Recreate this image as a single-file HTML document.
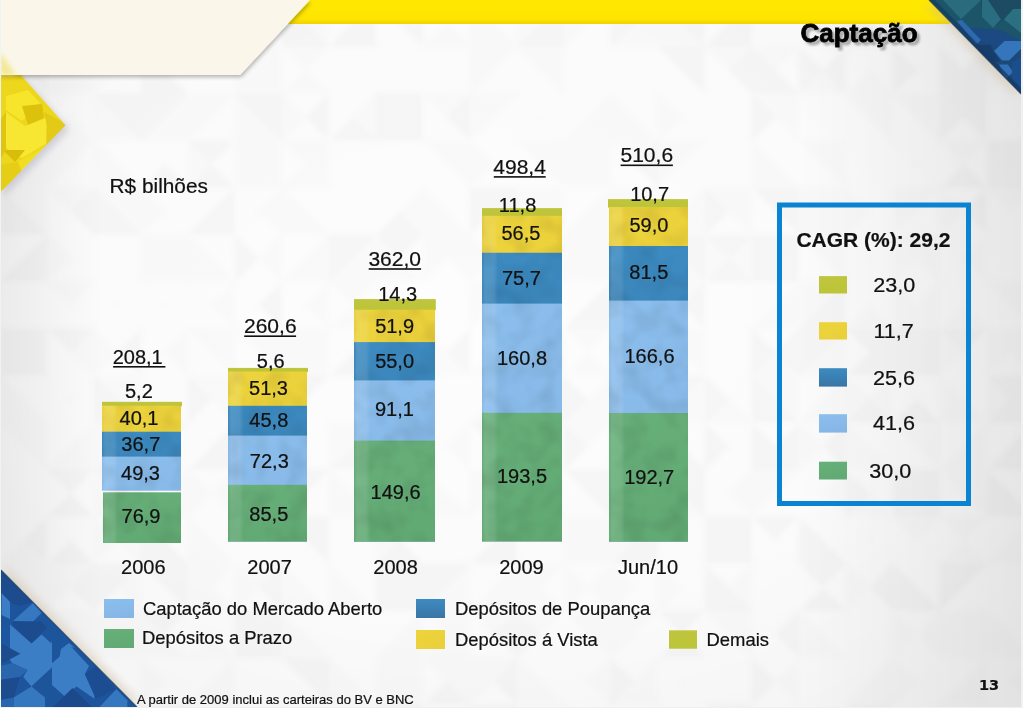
<!DOCTYPE html>
<html lang="pt">
<head>
<meta charset="utf-8">
<title>Captação</title>
<style>
html,body{margin:0;padding:0;background:#f6f6f6;}
body{width:1023px;height:708px;overflow:hidden;position:relative;}
svg{position:absolute;left:0;top:0;display:block;}
text{font-family:"Liberation Sans",Arial,Helvetica,sans-serif;fill:#111;stroke:#111;stroke-width:0.22px;}
.b{font-weight:bold;}
.sx text{transform-box:fill-box;transform-origin:center;transform:scaleX(1.09);}
</style>
</head>
<body>
<svg width="1023" height="708" viewBox="0 0 1023 708">
<defs>
  <radialGradient id="vig" cx="0.47" cy="0.45" r="0.72">
    <stop offset="0" stop-color="#000" stop-opacity="0"/>
    <stop offset="0.6" stop-color="#000" stop-opacity="0.01"/>
    <stop offset="1" stop-color="#000" stop-opacity="0.04"/>
  </radialGradient>
  <linearGradient id="vlr" x1="0" y1="0" x2="1" y2="0">
    <stop offset="0" stop-color="#000" stop-opacity="0.06"/>
    <stop offset="0.1" stop-color="#000" stop-opacity="0.0"/>
    <stop offset="0.78" stop-color="#000" stop-opacity="0.0"/>
    <stop offset="1" stop-color="#000" stop-opacity="0.07"/>
  </linearGradient>
  <linearGradient id="stripe" x1="0" y1="0" x2="1" y2="0">
    <stop offset="0" stop-color="#fff" stop-opacity="0"/>
    <stop offset="0.04" stop-color="#fff" stop-opacity="0.12"/>
    <stop offset="0.15" stop-color="#fff" stop-opacity="0.10"/>
    <stop offset="0.2" stop-color="#fff" stop-opacity="0"/>
    <stop offset="1" stop-color="#fff" stop-opacity="0"/>
  </linearGradient>
  <filter id="mottle" x="0" y="0" width="100%" height="100%">
    <feTurbulence type="fractalNoise" baseFrequency="0.045" numOctaves="2" seed="5" result="n"/>
    <feColorMatrix in="n" type="matrix" values="0 0 0 0 0  0 0 0 0 0  0 0 0 0 0  0.45 0 0 0 -0.17" result="a"/>
    <feComposite in="a" in2="SourceGraphic" operator="in"/>
  </filter>
  <linearGradient id="ybar" x1="0" y1="0" x2="0" y2="1">
    <stop offset="0" stop-color="#ffe800"/>
    <stop offset="0.8" stop-color="#fde500"/>
    <stop offset="1" stop-color="#efd200"/>
  </linearGradient>
  <linearGradient id="gD" x1="0" y1="0" x2="0" y2="1"><stop offset="0" stop-color="#bfc63e"/><stop offset="1" stop-color="#bcc438"/></linearGradient>
  <linearGradient id="gY" x1="0" y1="0" x2="1" y2="1"><stop offset="0" stop-color="#edd33c"/><stop offset="1" stop-color="#e9d03a"/></linearGradient>
  <linearGradient id="gB" x1="0" y1="0" x2="0" y2="1"><stop offset="0" stop-color="#3c8bc1"/><stop offset="1" stop-color="#3a74a6"/></linearGradient>
  <linearGradient id="gL" x1="0" y1="0" x2="0.3" y2="1"><stop offset="0" stop-color="#8cbfed"/><stop offset="1" stop-color="#86b6e6"/></linearGradient>
  <linearGradient id="gG" x1="0" y1="0" x2="0.3" y2="1"><stop offset="0" stop-color="#68b07a"/><stop offset="1" stop-color="#62aa74"/></linearGradient>
  <filter id="sh" x="-10%" y="-10%" width="130%" height="140%">
    <feGaussianBlur in="SourceAlpha" stdDeviation="2"/>
    <feOffset dx="1" dy="2"/>
    <feComponentTransfer><feFuncA type="linear" slope="0.3"/></feComponentTransfer>
    <feMerge><feMergeNode/><feMergeNode in="SourceGraphic"/></feMerge>
  </filter>
  <filter id="shl" x="-20%" y="-20%" width="140%" height="140%">
    <feGaussianBlur in="SourceAlpha" stdDeviation="3"/>
    <feOffset dx="-2" dy="2"/>
    <feComponentTransfer><feFuncA type="linear" slope="0.3"/></feComponentTransfer>
    <feMerge><feMergeNode/><feMergeNode in="SourceGraphic"/></feMerge>
  </filter>
  <filter id="tsh" x="-10%" y="-10%" width="130%" height="150%">
    <feGaussianBlur in="SourceAlpha" stdDeviation="1.1"/>
    <feOffset dx="2.5" dy="2.5"/>
    <feComponentTransfer><feFuncA type="linear" slope="0.3"/></feComponentTransfer>
    <feMerge><feMergeNode/><feMergeNode in="SourceGraphic"/></feMerge>
  </filter>
  <filter id="shbl" x="-20%" y="-20%" width="140%" height="140%">
    <feGaussianBlur in="SourceAlpha" stdDeviation="4"/>
    <feOffset dx="4" dy="-4"/>
    <feColorMatrix type="matrix" values="0 0 0 0 0.6  0 0 0 0 0.48  0 0 0 0 0.3  0 0 0 0.4 0"/>
    <feMerge><feMergeNode/><feMergeNode in="SourceGraphic"/></feMerge>
  </filter>
  <filter id="bgblur" x="0" y="0" width="100%" height="100%"><feGaussianBlur stdDeviation="2.5"/></filter>
  <filter id="soft" x="-5%" y="-5%" width="110%" height="110%"><feGaussianBlur stdDeviation="0.6"/></filter>
  <filter id="shtr" x="-20%" y="-20%" width="140%" height="140%">
    <feGaussianBlur in="SourceAlpha" stdDeviation="4"/>
    <feOffset dx="-4" dy="4"/>
    <feColorMatrix type="matrix" values="0 0 0 0 0.6  0 0 0 0 0.48  0 0 0 0 0.3  0 0 0 0.4 0"/>
    <feMerge><feMergeNode/><feMergeNode in="SourceGraphic"/></feMerge>
  </filter>
  <filter id="shy" x="-30%" y="-20%" width="160%" height="140%">
    <feGaussianBlur in="SourceAlpha" stdDeviation="3.5"/>
    <feOffset dx="3" dy="4"/>
    <feColorMatrix type="matrix" values="0 0 0 0 0.4  0 0 0 0 0.4  0 0 0 0 0.5  0 0 0 0.5 0"/>
    <feMerge><feMergeNode/><feMergeNode in="SourceGraphic"/></feMerge>
  </filter>
  <filter id="blur3" x="-50%" y="-50%" width="200%" height="200%"><feGaussianBlur stdDeviation="2.5"/></filter>
  <clipPath id="trc"><polygon points="929,0 1021,0 1021,94"/></clipPath>
  <clipPath id="blc"><polygon points="1,570 137,707 1,707"/></clipPath>
  <clipPath id="ylc"><polygon points="0,51.4 65.6,125.2 0,193"/></clipPath>
</defs>

<!-- background -->
<rect x="0" y="0" width="1023" height="708" fill="#fafafa"/>
<g filter="url(#bgblur)" stroke-width="0.8">
<polygon points="0.0,0.0 47.0,0.0 23.5,23.5" fill="#fafafa" stroke="#fafafa"/>
<polygon points="47.0,0.0 47.0,47.0 23.5,23.5" fill="#fdfdfd" stroke="#fdfdfd"/>
<polygon points="47.0,47.0 0.0,47.0 23.5,23.5" fill="#fafafa" stroke="#fafafa"/>
<polygon points="0.0,47.0 0.0,0.0 23.5,23.5" fill="#fafafa" stroke="#fafafa"/>
<polygon points="47.0,0.0 94.0,0.0 70.5,23.5" fill="#fdfdfd" stroke="#fdfdfd"/>
<polygon points="94.0,0.0 94.0,47.0 70.5,23.5" fill="#f7f7f7" stroke="#f7f7f7"/>
<polygon points="94.0,47.0 47.0,47.0 70.5,23.5" fill="#fdfdfd" stroke="#fdfdfd"/>
<polygon points="47.0,47.0 47.0,0.0 70.5,23.5" fill="#fdfdfd" stroke="#fdfdfd"/>
<polygon points="94.0,0.0 141.0,0.0 141.0,47.0" fill="#f7f7f7" stroke="#f7f7f7"/>
<polygon points="94.0,0.0 141.0,47.0 94.0,47.0" fill="#fdfdfd" stroke="#fdfdfd"/>
<polygon points="141.0,0.0 188.0,0.0 188.0,47.0" fill="#fafafa" stroke="#fafafa"/>
<polygon points="141.0,0.0 188.0,47.0 141.0,47.0" fill="#f7f7f7" stroke="#f7f7f7"/>
<polygon points="188.0,0.0 235.0,0.0 188.0,47.0" fill="#fafafa" stroke="#fafafa"/>
<polygon points="235.0,0.0 235.0,47.0 188.0,47.0" fill="#fdfdfd" stroke="#fdfdfd"/>
<polygon points="235.0,0.0 282.0,0.0 235.0,47.0" fill="#fdfdfd" stroke="#fdfdfd"/>
<polygon points="282.0,0.0 282.0,47.0 235.0,47.0" fill="#fdfdfd" stroke="#fdfdfd"/>
<polygon points="282.0,0.0 329.0,0.0 329.0,47.0" fill="#fafafa" stroke="#fafafa"/>
<polygon points="282.0,0.0 329.0,47.0 282.0,47.0" fill="#f7f7f7" stroke="#f7f7f7"/>
<polygon points="329.0,0.0 376.0,0.0 329.0,47.0" fill="#fdfdfd" stroke="#fdfdfd"/>
<polygon points="376.0,0.0 376.0,47.0 329.0,47.0" fill="#f7f7f7" stroke="#f7f7f7"/>
<polygon points="376.0,0.0 423.0,0.0 399.5,23.5" fill="#f7f7f7" stroke="#f7f7f7"/>
<polygon points="423.0,0.0 423.0,47.0 399.5,23.5" fill="#f7f7f7" stroke="#f7f7f7"/>
<polygon points="423.0,47.0 376.0,47.0 399.5,23.5" fill="#fdfdfd" stroke="#fdfdfd"/>
<polygon points="376.0,47.0 376.0,0.0 399.5,23.5" fill="#fdfdfd" stroke="#fdfdfd"/>
<polygon points="423.0,0.0 470.0,0.0 446.5,23.5" fill="#f7f7f7" stroke="#f7f7f7"/>
<polygon points="470.0,0.0 470.0,47.0 446.5,23.5" fill="#fdfdfd" stroke="#fdfdfd"/>
<polygon points="470.0,47.0 423.0,47.0 446.5,23.5" fill="#fafafa" stroke="#fafafa"/>
<polygon points="423.0,47.0 423.0,0.0 446.5,23.5" fill="#fdfdfd" stroke="#fdfdfd"/>
<polygon points="470.0,0.0 517.0,0.0 517.0,47.0" fill="#fdfdfd" stroke="#fdfdfd"/>
<polygon points="470.0,0.0 517.0,47.0 470.0,47.0" fill="#fafafa" stroke="#fafafa"/>
<polygon points="517.0,0.0 564.0,0.0 517.0,47.0" fill="#fafafa" stroke="#fafafa"/>
<polygon points="564.0,0.0 564.0,47.0 517.0,47.0" fill="#f7f7f7" stroke="#f7f7f7"/>
<polygon points="564.0,0.0 611.0,0.0 564.0,47.0" fill="#fafafa" stroke="#fafafa"/>
<polygon points="611.0,0.0 611.0,47.0 564.0,47.0" fill="#fdfdfd" stroke="#fdfdfd"/>
<polygon points="611.0,0.0 658.0,0.0 611.0,47.0" fill="#f7f7f7" stroke="#f7f7f7"/>
<polygon points="658.0,0.0 658.0,47.0 611.0,47.0" fill="#fafafa" stroke="#fafafa"/>
<polygon points="658.0,0.0 705.0,0.0 705.0,47.0" fill="#f7f7f7" stroke="#f7f7f7"/>
<polygon points="658.0,0.0 705.0,47.0 658.0,47.0" fill="#fafafa" stroke="#fafafa"/>
<polygon points="705.0,0.0 752.0,0.0 728.5,23.5" fill="#fdfdfd" stroke="#fdfdfd"/>
<polygon points="752.0,0.0 752.0,47.0 728.5,23.5" fill="#f7f7f7" stroke="#f7f7f7"/>
<polygon points="752.0,47.0 705.0,47.0 728.5,23.5" fill="#f7f7f7" stroke="#f7f7f7"/>
<polygon points="705.0,47.0 705.0,0.0 728.5,23.5" fill="#fdfdfd" stroke="#fdfdfd"/>
<polygon points="752.0,0.0 799.0,0.0 799.0,47.0" fill="#fdfdfd" stroke="#fdfdfd"/>
<polygon points="752.0,0.0 799.0,47.0 752.0,47.0" fill="#fdfdfd" stroke="#fdfdfd"/>
<polygon points="799.0,0.0 846.0,0.0 799.0,47.0" fill="#fdfdfd" stroke="#fdfdfd"/>
<polygon points="846.0,0.0 846.0,47.0 799.0,47.0" fill="#fafafa" stroke="#fafafa"/>
<polygon points="846.0,0.0 893.0,0.0 869.5,23.5" fill="#fafafa" stroke="#fafafa"/>
<polygon points="893.0,0.0 893.0,47.0 869.5,23.5" fill="#fdfdfd" stroke="#fdfdfd"/>
<polygon points="893.0,47.0 846.0,47.0 869.5,23.5" fill="#f7f7f7" stroke="#f7f7f7"/>
<polygon points="846.0,47.0 846.0,0.0 869.5,23.5" fill="#f7f7f7" stroke="#f7f7f7"/>
<polygon points="893.0,0.0 940.0,0.0 893.0,47.0" fill="#fdfdfd" stroke="#fdfdfd"/>
<polygon points="940.0,0.0 940.0,47.0 893.0,47.0" fill="#fdfdfd" stroke="#fdfdfd"/>
<polygon points="940.0,0.0 987.0,0.0 987.0,47.0" fill="#fdfdfd" stroke="#fdfdfd"/>
<polygon points="940.0,0.0 987.0,47.0 940.0,47.0" fill="#fdfdfd" stroke="#fdfdfd"/>
<polygon points="987.0,0.0 1034.0,0.0 1034.0,47.0" fill="#fdfdfd" stroke="#fdfdfd"/>
<polygon points="987.0,0.0 1034.0,47.0 987.0,47.0" fill="#f7f7f7" stroke="#f7f7f7"/>
<polygon points="0.0,47.0 47.0,47.0 23.5,70.5" fill="#f7f7f7" stroke="#f7f7f7"/>
<polygon points="47.0,47.0 47.0,94.0 23.5,70.5" fill="#f7f7f7" stroke="#f7f7f7"/>
<polygon points="47.0,94.0 0.0,94.0 23.5,70.5" fill="#fdfdfd" stroke="#fdfdfd"/>
<polygon points="0.0,94.0 0.0,47.0 23.5,70.5" fill="#fdfdfd" stroke="#fdfdfd"/>
<polygon points="47.0,47.0 94.0,47.0 47.0,94.0" fill="#fafafa" stroke="#fafafa"/>
<polygon points="94.0,47.0 94.0,94.0 47.0,94.0" fill="#fafafa" stroke="#fafafa"/>
<polygon points="94.0,47.0 141.0,47.0 94.0,94.0" fill="#fafafa" stroke="#fafafa"/>
<polygon points="141.0,47.0 141.0,94.0 94.0,94.0" fill="#fdfdfd" stroke="#fdfdfd"/>
<polygon points="141.0,47.0 188.0,47.0 188.0,94.0" fill="#fdfdfd" stroke="#fdfdfd"/>
<polygon points="141.0,47.0 188.0,94.0 141.0,94.0" fill="#f7f7f7" stroke="#f7f7f7"/>
<polygon points="188.0,47.0 235.0,47.0 188.0,94.0" fill="#fdfdfd" stroke="#fdfdfd"/>
<polygon points="235.0,47.0 235.0,94.0 188.0,94.0" fill="#fdfdfd" stroke="#fdfdfd"/>
<polygon points="235.0,47.0 282.0,47.0 282.0,94.0" fill="#fafafa" stroke="#fafafa"/>
<polygon points="235.0,47.0 282.0,94.0 235.0,94.0" fill="#fafafa" stroke="#fafafa"/>
<polygon points="282.0,47.0 329.0,47.0 305.5,70.5" fill="#fafafa" stroke="#fafafa"/>
<polygon points="329.0,47.0 329.0,94.0 305.5,70.5" fill="#fdfdfd" stroke="#fdfdfd"/>
<polygon points="329.0,94.0 282.0,94.0 305.5,70.5" fill="#fafafa" stroke="#fafafa"/>
<polygon points="282.0,94.0 282.0,47.0 305.5,70.5" fill="#fdfdfd" stroke="#fdfdfd"/>
<polygon points="329.0,47.0 376.0,47.0 329.0,94.0" fill="#fdfdfd" stroke="#fdfdfd"/>
<polygon points="376.0,47.0 376.0,94.0 329.0,94.0" fill="#fdfdfd" stroke="#fdfdfd"/>
<polygon points="376.0,47.0 423.0,47.0 376.0,94.0" fill="#fdfdfd" stroke="#fdfdfd"/>
<polygon points="423.0,47.0 423.0,94.0 376.0,94.0" fill="#fdfdfd" stroke="#fdfdfd"/>
<polygon points="423.0,47.0 470.0,47.0 470.0,94.0" fill="#fdfdfd" stroke="#fdfdfd"/>
<polygon points="423.0,47.0 470.0,94.0 423.0,94.0" fill="#fdfdfd" stroke="#fdfdfd"/>
<polygon points="470.0,47.0 517.0,47.0 493.5,70.5" fill="#fafafa" stroke="#fafafa"/>
<polygon points="517.0,47.0 517.0,94.0 493.5,70.5" fill="#fdfdfd" stroke="#fdfdfd"/>
<polygon points="517.0,94.0 470.0,94.0 493.5,70.5" fill="#fdfdfd" stroke="#fdfdfd"/>
<polygon points="470.0,94.0 470.0,47.0 493.5,70.5" fill="#fafafa" stroke="#fafafa"/>
<polygon points="517.0,47.0 564.0,47.0 540.5,70.5" fill="#fafafa" stroke="#fafafa"/>
<polygon points="564.0,47.0 564.0,94.0 540.5,70.5" fill="#fafafa" stroke="#fafafa"/>
<polygon points="564.0,94.0 517.0,94.0 540.5,70.5" fill="#fdfdfd" stroke="#fdfdfd"/>
<polygon points="517.0,94.0 517.0,47.0 540.5,70.5" fill="#fdfdfd" stroke="#fdfdfd"/>
<polygon points="564.0,47.0 611.0,47.0 611.0,94.0" fill="#fdfdfd" stroke="#fdfdfd"/>
<polygon points="564.0,47.0 611.0,94.0 564.0,94.0" fill="#fdfdfd" stroke="#fdfdfd"/>
<polygon points="611.0,47.0 658.0,47.0 658.0,94.0" fill="#fdfdfd" stroke="#fdfdfd"/>
<polygon points="611.0,47.0 658.0,94.0 611.0,94.0" fill="#fdfdfd" stroke="#fdfdfd"/>
<polygon points="658.0,47.0 705.0,47.0 705.0,94.0" fill="#f7f7f7" stroke="#f7f7f7"/>
<polygon points="658.0,47.0 705.0,94.0 658.0,94.0" fill="#fdfdfd" stroke="#fdfdfd"/>
<polygon points="705.0,47.0 752.0,47.0 728.5,70.5" fill="#fafafa" stroke="#fafafa"/>
<polygon points="752.0,47.0 752.0,94.0 728.5,70.5" fill="#f7f7f7" stroke="#f7f7f7"/>
<polygon points="752.0,94.0 705.0,94.0 728.5,70.5" fill="#fdfdfd" stroke="#fdfdfd"/>
<polygon points="705.0,94.0 705.0,47.0 728.5,70.5" fill="#fdfdfd" stroke="#fdfdfd"/>
<polygon points="752.0,47.0 799.0,47.0 775.5,70.5" fill="#fafafa" stroke="#fafafa"/>
<polygon points="799.0,47.0 799.0,94.0 775.5,70.5" fill="#fdfdfd" stroke="#fdfdfd"/>
<polygon points="799.0,94.0 752.0,94.0 775.5,70.5" fill="#f7f7f7" stroke="#f7f7f7"/>
<polygon points="752.0,94.0 752.0,47.0 775.5,70.5" fill="#f7f7f7" stroke="#f7f7f7"/>
<polygon points="799.0,47.0 846.0,47.0 822.5,70.5" fill="#fdfdfd" stroke="#fdfdfd"/>
<polygon points="846.0,47.0 846.0,94.0 822.5,70.5" fill="#f7f7f7" stroke="#f7f7f7"/>
<polygon points="846.0,94.0 799.0,94.0 822.5,70.5" fill="#fafafa" stroke="#fafafa"/>
<polygon points="799.0,94.0 799.0,47.0 822.5,70.5" fill="#f7f7f7" stroke="#f7f7f7"/>
<polygon points="846.0,47.0 893.0,47.0 869.5,70.5" fill="#fdfdfd" stroke="#fdfdfd"/>
<polygon points="893.0,47.0 893.0,94.0 869.5,70.5" fill="#fdfdfd" stroke="#fdfdfd"/>
<polygon points="893.0,94.0 846.0,94.0 869.5,70.5" fill="#fafafa" stroke="#fafafa"/>
<polygon points="846.0,94.0 846.0,47.0 869.5,70.5" fill="#fdfdfd" stroke="#fdfdfd"/>
<polygon points="893.0,47.0 940.0,47.0 916.5,70.5" fill="#fdfdfd" stroke="#fdfdfd"/>
<polygon points="940.0,47.0 940.0,94.0 916.5,70.5" fill="#fdfdfd" stroke="#fdfdfd"/>
<polygon points="940.0,94.0 893.0,94.0 916.5,70.5" fill="#fdfdfd" stroke="#fdfdfd"/>
<polygon points="893.0,94.0 893.0,47.0 916.5,70.5" fill="#f7f7f7" stroke="#f7f7f7"/>
<polygon points="940.0,47.0 987.0,47.0 963.5,70.5" fill="#fdfdfd" stroke="#fdfdfd"/>
<polygon points="987.0,47.0 987.0,94.0 963.5,70.5" fill="#f7f7f7" stroke="#f7f7f7"/>
<polygon points="987.0,94.0 940.0,94.0 963.5,70.5" fill="#f7f7f7" stroke="#f7f7f7"/>
<polygon points="940.0,94.0 940.0,47.0 963.5,70.5" fill="#f7f7f7" stroke="#f7f7f7"/>
<polygon points="987.0,47.0 1034.0,47.0 1010.5,70.5" fill="#f7f7f7" stroke="#f7f7f7"/>
<polygon points="1034.0,47.0 1034.0,94.0 1010.5,70.5" fill="#f7f7f7" stroke="#f7f7f7"/>
<polygon points="1034.0,94.0 987.0,94.0 1010.5,70.5" fill="#fdfdfd" stroke="#fdfdfd"/>
<polygon points="987.0,94.0 987.0,47.0 1010.5,70.5" fill="#fafafa" stroke="#fafafa"/>
<polygon points="0.0,94.0 47.0,94.0 0.0,141.0" fill="#fafafa" stroke="#fafafa"/>
<polygon points="47.0,94.0 47.0,141.0 0.0,141.0" fill="#fdfdfd" stroke="#fdfdfd"/>
<polygon points="47.0,94.0 94.0,94.0 70.5,117.5" fill="#fdfdfd" stroke="#fdfdfd"/>
<polygon points="94.0,94.0 94.0,141.0 70.5,117.5" fill="#fdfdfd" stroke="#fdfdfd"/>
<polygon points="94.0,141.0 47.0,141.0 70.5,117.5" fill="#fafafa" stroke="#fafafa"/>
<polygon points="47.0,141.0 47.0,94.0 70.5,117.5" fill="#fdfdfd" stroke="#fdfdfd"/>
<polygon points="94.0,94.0 141.0,94.0 141.0,141.0" fill="#f7f7f7" stroke="#f7f7f7"/>
<polygon points="94.0,94.0 141.0,141.0 94.0,141.0" fill="#fafafa" stroke="#fafafa"/>
<polygon points="141.0,94.0 188.0,94.0 141.0,141.0" fill="#f7f7f7" stroke="#f7f7f7"/>
<polygon points="188.0,94.0 188.0,141.0 141.0,141.0" fill="#fafafa" stroke="#fafafa"/>
<polygon points="188.0,94.0 235.0,94.0 211.5,117.5" fill="#fafafa" stroke="#fafafa"/>
<polygon points="235.0,94.0 235.0,141.0 211.5,117.5" fill="#fdfdfd" stroke="#fdfdfd"/>
<polygon points="235.0,141.0 188.0,141.0 211.5,117.5" fill="#fdfdfd" stroke="#fdfdfd"/>
<polygon points="188.0,141.0 188.0,94.0 211.5,117.5" fill="#fafafa" stroke="#fafafa"/>
<polygon points="235.0,94.0 282.0,94.0 282.0,141.0" fill="#f7f7f7" stroke="#f7f7f7"/>
<polygon points="235.0,94.0 282.0,141.0 235.0,141.0" fill="#fafafa" stroke="#fafafa"/>
<polygon points="282.0,94.0 329.0,94.0 305.5,117.5" fill="#fdfdfd" stroke="#fdfdfd"/>
<polygon points="329.0,94.0 329.0,141.0 305.5,117.5" fill="#f7f7f7" stroke="#f7f7f7"/>
<polygon points="329.0,141.0 282.0,141.0 305.5,117.5" fill="#fdfdfd" stroke="#fdfdfd"/>
<polygon points="282.0,141.0 282.0,94.0 305.5,117.5" fill="#fafafa" stroke="#fafafa"/>
<polygon points="329.0,94.0 376.0,94.0 352.5,117.5" fill="#fdfdfd" stroke="#fdfdfd"/>
<polygon points="376.0,94.0 376.0,141.0 352.5,117.5" fill="#fafafa" stroke="#fafafa"/>
<polygon points="376.0,141.0 329.0,141.0 352.5,117.5" fill="#f7f7f7" stroke="#f7f7f7"/>
<polygon points="329.0,141.0 329.0,94.0 352.5,117.5" fill="#fdfdfd" stroke="#fdfdfd"/>
<polygon points="376.0,94.0 423.0,94.0 376.0,141.0" fill="#f7f7f7" stroke="#f7f7f7"/>
<polygon points="423.0,94.0 423.0,141.0 376.0,141.0" fill="#f7f7f7" stroke="#f7f7f7"/>
<polygon points="423.0,94.0 470.0,94.0 446.5,117.5" fill="#fafafa" stroke="#fafafa"/>
<polygon points="470.0,94.0 470.0,141.0 446.5,117.5" fill="#f7f7f7" stroke="#f7f7f7"/>
<polygon points="470.0,141.0 423.0,141.0 446.5,117.5" fill="#fdfdfd" stroke="#fdfdfd"/>
<polygon points="423.0,141.0 423.0,94.0 446.5,117.5" fill="#fdfdfd" stroke="#fdfdfd"/>
<polygon points="470.0,94.0 517.0,94.0 493.5,117.5" fill="#fafafa" stroke="#fafafa"/>
<polygon points="517.0,94.0 517.0,141.0 493.5,117.5" fill="#fdfdfd" stroke="#fdfdfd"/>
<polygon points="517.0,141.0 470.0,141.0 493.5,117.5" fill="#fdfdfd" stroke="#fdfdfd"/>
<polygon points="470.0,141.0 470.0,94.0 493.5,117.5" fill="#fafafa" stroke="#fafafa"/>
<polygon points="517.0,94.0 564.0,94.0 540.5,117.5" fill="#fdfdfd" stroke="#fdfdfd"/>
<polygon points="564.0,94.0 564.0,141.0 540.5,117.5" fill="#fdfdfd" stroke="#fdfdfd"/>
<polygon points="564.0,141.0 517.0,141.0 540.5,117.5" fill="#fdfdfd" stroke="#fdfdfd"/>
<polygon points="517.0,141.0 517.0,94.0 540.5,117.5" fill="#fdfdfd" stroke="#fdfdfd"/>
<polygon points="564.0,94.0 611.0,94.0 564.0,141.0" fill="#fdfdfd" stroke="#fdfdfd"/>
<polygon points="611.0,94.0 611.0,141.0 564.0,141.0" fill="#fafafa" stroke="#fafafa"/>
<polygon points="611.0,94.0 658.0,94.0 634.5,117.5" fill="#fdfdfd" stroke="#fdfdfd"/>
<polygon points="658.0,94.0 658.0,141.0 634.5,117.5" fill="#fdfdfd" stroke="#fdfdfd"/>
<polygon points="658.0,141.0 611.0,141.0 634.5,117.5" fill="#fafafa" stroke="#fafafa"/>
<polygon points="611.0,141.0 611.0,94.0 634.5,117.5" fill="#fafafa" stroke="#fafafa"/>
<polygon points="658.0,94.0 705.0,94.0 681.5,117.5" fill="#fdfdfd" stroke="#fdfdfd"/>
<polygon points="705.0,94.0 705.0,141.0 681.5,117.5" fill="#fdfdfd" stroke="#fdfdfd"/>
<polygon points="705.0,141.0 658.0,141.0 681.5,117.5" fill="#fdfdfd" stroke="#fdfdfd"/>
<polygon points="658.0,141.0 658.0,94.0 681.5,117.5" fill="#fafafa" stroke="#fafafa"/>
<polygon points="705.0,94.0 752.0,94.0 752.0,141.0" fill="#fdfdfd" stroke="#fdfdfd"/>
<polygon points="705.0,94.0 752.0,141.0 705.0,141.0" fill="#fdfdfd" stroke="#fdfdfd"/>
<polygon points="752.0,94.0 799.0,94.0 775.5,117.5" fill="#fafafa" stroke="#fafafa"/>
<polygon points="799.0,94.0 799.0,141.0 775.5,117.5" fill="#fafafa" stroke="#fafafa"/>
<polygon points="799.0,141.0 752.0,141.0 775.5,117.5" fill="#fdfdfd" stroke="#fdfdfd"/>
<polygon points="752.0,141.0 752.0,94.0 775.5,117.5" fill="#f7f7f7" stroke="#f7f7f7"/>
<polygon points="799.0,94.0 846.0,94.0 846.0,141.0" fill="#fdfdfd" stroke="#fdfdfd"/>
<polygon points="799.0,94.0 846.0,141.0 799.0,141.0" fill="#fdfdfd" stroke="#fdfdfd"/>
<polygon points="846.0,94.0 893.0,94.0 893.0,141.0" fill="#fafafa" stroke="#fafafa"/>
<polygon points="846.0,94.0 893.0,141.0 846.0,141.0" fill="#fdfdfd" stroke="#fdfdfd"/>
<polygon points="893.0,94.0 940.0,94.0 916.5,117.5" fill="#fafafa" stroke="#fafafa"/>
<polygon points="940.0,94.0 940.0,141.0 916.5,117.5" fill="#fafafa" stroke="#fafafa"/>
<polygon points="940.0,141.0 893.0,141.0 916.5,117.5" fill="#fdfdfd" stroke="#fdfdfd"/>
<polygon points="893.0,141.0 893.0,94.0 916.5,117.5" fill="#fdfdfd" stroke="#fdfdfd"/>
<polygon points="940.0,94.0 987.0,94.0 963.5,117.5" fill="#f7f7f7" stroke="#f7f7f7"/>
<polygon points="987.0,94.0 987.0,141.0 963.5,117.5" fill="#f7f7f7" stroke="#f7f7f7"/>
<polygon points="987.0,141.0 940.0,141.0 963.5,117.5" fill="#fdfdfd" stroke="#fdfdfd"/>
<polygon points="940.0,141.0 940.0,94.0 963.5,117.5" fill="#f7f7f7" stroke="#f7f7f7"/>
<polygon points="987.0,94.0 1034.0,94.0 1034.0,141.0" fill="#fdfdfd" stroke="#fdfdfd"/>
<polygon points="987.0,94.0 1034.0,141.0 987.0,141.0" fill="#fdfdfd" stroke="#fdfdfd"/>
<polygon points="0.0,141.0 47.0,141.0 0.0,188.0" fill="#f7f7f7" stroke="#f7f7f7"/>
<polygon points="47.0,141.0 47.0,188.0 0.0,188.0" fill="#fafafa" stroke="#fafafa"/>
<polygon points="47.0,141.0 94.0,141.0 47.0,188.0" fill="#fafafa" stroke="#fafafa"/>
<polygon points="94.0,141.0 94.0,188.0 47.0,188.0" fill="#fdfdfd" stroke="#fdfdfd"/>
<polygon points="94.0,141.0 141.0,141.0 141.0,188.0" fill="#fdfdfd" stroke="#fdfdfd"/>
<polygon points="94.0,141.0 141.0,188.0 94.0,188.0" fill="#fafafa" stroke="#fafafa"/>
<polygon points="141.0,141.0 188.0,141.0 164.5,164.5" fill="#fdfdfd" stroke="#fdfdfd"/>
<polygon points="188.0,141.0 188.0,188.0 164.5,164.5" fill="#fdfdfd" stroke="#fdfdfd"/>
<polygon points="188.0,188.0 141.0,188.0 164.5,164.5" fill="#f7f7f7" stroke="#f7f7f7"/>
<polygon points="141.0,188.0 141.0,141.0 164.5,164.5" fill="#fdfdfd" stroke="#fdfdfd"/>
<polygon points="188.0,141.0 235.0,141.0 211.5,164.5" fill="#f7f7f7" stroke="#f7f7f7"/>
<polygon points="235.0,141.0 235.0,188.0 211.5,164.5" fill="#fdfdfd" stroke="#fdfdfd"/>
<polygon points="235.0,188.0 188.0,188.0 211.5,164.5" fill="#f7f7f7" stroke="#f7f7f7"/>
<polygon points="188.0,188.0 188.0,141.0 211.5,164.5" fill="#fafafa" stroke="#fafafa"/>
<polygon points="235.0,141.0 282.0,141.0 235.0,188.0" fill="#fafafa" stroke="#fafafa"/>
<polygon points="282.0,141.0 282.0,188.0 235.0,188.0" fill="#fafafa" stroke="#fafafa"/>
<polygon points="282.0,141.0 329.0,141.0 305.5,164.5" fill="#fafafa" stroke="#fafafa"/>
<polygon points="329.0,141.0 329.0,188.0 305.5,164.5" fill="#fafafa" stroke="#fafafa"/>
<polygon points="329.0,188.0 282.0,188.0 305.5,164.5" fill="#fafafa" stroke="#fafafa"/>
<polygon points="282.0,188.0 282.0,141.0 305.5,164.5" fill="#fdfdfd" stroke="#fdfdfd"/>
<polygon points="329.0,141.0 376.0,141.0 329.0,188.0" fill="#fdfdfd" stroke="#fdfdfd"/>
<polygon points="376.0,141.0 376.0,188.0 329.0,188.0" fill="#fdfdfd" stroke="#fdfdfd"/>
<polygon points="376.0,141.0 423.0,141.0 376.0,188.0" fill="#fdfdfd" stroke="#fdfdfd"/>
<polygon points="423.0,141.0 423.0,188.0 376.0,188.0" fill="#fdfdfd" stroke="#fdfdfd"/>
<polygon points="423.0,141.0 470.0,141.0 446.5,164.5" fill="#fafafa" stroke="#fafafa"/>
<polygon points="470.0,141.0 470.0,188.0 446.5,164.5" fill="#fafafa" stroke="#fafafa"/>
<polygon points="470.0,188.0 423.0,188.0 446.5,164.5" fill="#fdfdfd" stroke="#fdfdfd"/>
<polygon points="423.0,188.0 423.0,141.0 446.5,164.5" fill="#fdfdfd" stroke="#fdfdfd"/>
<polygon points="470.0,141.0 517.0,141.0 493.5,164.5" fill="#fdfdfd" stroke="#fdfdfd"/>
<polygon points="517.0,141.0 517.0,188.0 493.5,164.5" fill="#fdfdfd" stroke="#fdfdfd"/>
<polygon points="517.0,188.0 470.0,188.0 493.5,164.5" fill="#fdfdfd" stroke="#fdfdfd"/>
<polygon points="470.0,188.0 470.0,141.0 493.5,164.5" fill="#fafafa" stroke="#fafafa"/>
<polygon points="517.0,141.0 564.0,141.0 564.0,188.0" fill="#fafafa" stroke="#fafafa"/>
<polygon points="517.0,141.0 564.0,188.0 517.0,188.0" fill="#fdfdfd" stroke="#fdfdfd"/>
<polygon points="564.0,141.0 611.0,141.0 564.0,188.0" fill="#fafafa" stroke="#fafafa"/>
<polygon points="611.0,141.0 611.0,188.0 564.0,188.0" fill="#fafafa" stroke="#fafafa"/>
<polygon points="611.0,141.0 658.0,141.0 634.5,164.5" fill="#fafafa" stroke="#fafafa"/>
<polygon points="658.0,141.0 658.0,188.0 634.5,164.5" fill="#f7f7f7" stroke="#f7f7f7"/>
<polygon points="658.0,188.0 611.0,188.0 634.5,164.5" fill="#fdfdfd" stroke="#fdfdfd"/>
<polygon points="611.0,188.0 611.0,141.0 634.5,164.5" fill="#fdfdfd" stroke="#fdfdfd"/>
<polygon points="658.0,141.0 705.0,141.0 658.0,188.0" fill="#fafafa" stroke="#fafafa"/>
<polygon points="705.0,141.0 705.0,188.0 658.0,188.0" fill="#fdfdfd" stroke="#fdfdfd"/>
<polygon points="705.0,141.0 752.0,141.0 752.0,188.0" fill="#fdfdfd" stroke="#fdfdfd"/>
<polygon points="705.0,141.0 752.0,188.0 705.0,188.0" fill="#fdfdfd" stroke="#fdfdfd"/>
<polygon points="752.0,141.0 799.0,141.0 799.0,188.0" fill="#fdfdfd" stroke="#fdfdfd"/>
<polygon points="752.0,141.0 799.0,188.0 752.0,188.0" fill="#fafafa" stroke="#fafafa"/>
<polygon points="799.0,141.0 846.0,141.0 846.0,188.0" fill="#fafafa" stroke="#fafafa"/>
<polygon points="799.0,141.0 846.0,188.0 799.0,188.0" fill="#fdfdfd" stroke="#fdfdfd"/>
<polygon points="846.0,141.0 893.0,141.0 846.0,188.0" fill="#fdfdfd" stroke="#fdfdfd"/>
<polygon points="893.0,141.0 893.0,188.0 846.0,188.0" fill="#fdfdfd" stroke="#fdfdfd"/>
<polygon points="893.0,141.0 940.0,141.0 916.5,164.5" fill="#fdfdfd" stroke="#fdfdfd"/>
<polygon points="940.0,141.0 940.0,188.0 916.5,164.5" fill="#fdfdfd" stroke="#fdfdfd"/>
<polygon points="940.0,188.0 893.0,188.0 916.5,164.5" fill="#fdfdfd" stroke="#fdfdfd"/>
<polygon points="893.0,188.0 893.0,141.0 916.5,164.5" fill="#fdfdfd" stroke="#fdfdfd"/>
<polygon points="940.0,141.0 987.0,141.0 963.5,164.5" fill="#fafafa" stroke="#fafafa"/>
<polygon points="987.0,141.0 987.0,188.0 963.5,164.5" fill="#fdfdfd" stroke="#fdfdfd"/>
<polygon points="987.0,188.0 940.0,188.0 963.5,164.5" fill="#f7f7f7" stroke="#f7f7f7"/>
<polygon points="940.0,188.0 940.0,141.0 963.5,164.5" fill="#fdfdfd" stroke="#fdfdfd"/>
<polygon points="987.0,141.0 1034.0,141.0 1034.0,188.0" fill="#f7f7f7" stroke="#f7f7f7"/>
<polygon points="987.0,141.0 1034.0,188.0 987.0,188.0" fill="#f7f7f7" stroke="#f7f7f7"/>
<polygon points="0.0,188.0 47.0,188.0 47.0,235.0" fill="#fafafa" stroke="#fafafa"/>
<polygon points="0.0,188.0 47.0,235.0 0.0,235.0" fill="#f7f7f7" stroke="#f7f7f7"/>
<polygon points="47.0,188.0 94.0,188.0 70.5,211.5" fill="#fafafa" stroke="#fafafa"/>
<polygon points="94.0,188.0 94.0,235.0 70.5,211.5" fill="#f7f7f7" stroke="#f7f7f7"/>
<polygon points="94.0,235.0 47.0,235.0 70.5,211.5" fill="#fdfdfd" stroke="#fdfdfd"/>
<polygon points="47.0,235.0 47.0,188.0 70.5,211.5" fill="#fdfdfd" stroke="#fdfdfd"/>
<polygon points="94.0,188.0 141.0,188.0 117.5,211.5" fill="#fafafa" stroke="#fafafa"/>
<polygon points="141.0,188.0 141.0,235.0 117.5,211.5" fill="#fafafa" stroke="#fafafa"/>
<polygon points="141.0,235.0 94.0,235.0 117.5,211.5" fill="#f7f7f7" stroke="#f7f7f7"/>
<polygon points="94.0,235.0 94.0,188.0 117.5,211.5" fill="#f7f7f7" stroke="#f7f7f7"/>
<polygon points="141.0,188.0 188.0,188.0 164.5,211.5" fill="#fdfdfd" stroke="#fdfdfd"/>
<polygon points="188.0,188.0 188.0,235.0 164.5,211.5" fill="#fdfdfd" stroke="#fdfdfd"/>
<polygon points="188.0,235.0 141.0,235.0 164.5,211.5" fill="#fdfdfd" stroke="#fdfdfd"/>
<polygon points="141.0,235.0 141.0,188.0 164.5,211.5" fill="#fafafa" stroke="#fafafa"/>
<polygon points="188.0,188.0 235.0,188.0 188.0,235.0" fill="#fdfdfd" stroke="#fdfdfd"/>
<polygon points="235.0,188.0 235.0,235.0 188.0,235.0" fill="#f7f7f7" stroke="#f7f7f7"/>
<polygon points="235.0,188.0 282.0,188.0 258.5,211.5" fill="#fdfdfd" stroke="#fdfdfd"/>
<polygon points="282.0,188.0 282.0,235.0 258.5,211.5" fill="#fafafa" stroke="#fafafa"/>
<polygon points="282.0,235.0 235.0,235.0 258.5,211.5" fill="#fdfdfd" stroke="#fdfdfd"/>
<polygon points="235.0,235.0 235.0,188.0 258.5,211.5" fill="#fdfdfd" stroke="#fdfdfd"/>
<polygon points="282.0,188.0 329.0,188.0 329.0,235.0" fill="#fdfdfd" stroke="#fdfdfd"/>
<polygon points="282.0,188.0 329.0,235.0 282.0,235.0" fill="#fafafa" stroke="#fafafa"/>
<polygon points="329.0,188.0 376.0,188.0 376.0,235.0" fill="#fdfdfd" stroke="#fdfdfd"/>
<polygon points="329.0,188.0 376.0,235.0 329.0,235.0" fill="#fdfdfd" stroke="#fdfdfd"/>
<polygon points="376.0,188.0 423.0,188.0 399.5,211.5" fill="#fdfdfd" stroke="#fdfdfd"/>
<polygon points="423.0,188.0 423.0,235.0 399.5,211.5" fill="#fafafa" stroke="#fafafa"/>
<polygon points="423.0,235.0 376.0,235.0 399.5,211.5" fill="#f7f7f7" stroke="#f7f7f7"/>
<polygon points="376.0,235.0 376.0,188.0 399.5,211.5" fill="#fdfdfd" stroke="#fdfdfd"/>
<polygon points="423.0,188.0 470.0,188.0 470.0,235.0" fill="#fdfdfd" stroke="#fdfdfd"/>
<polygon points="423.0,188.0 470.0,235.0 423.0,235.0" fill="#fafafa" stroke="#fafafa"/>
<polygon points="470.0,188.0 517.0,188.0 493.5,211.5" fill="#f7f7f7" stroke="#f7f7f7"/>
<polygon points="517.0,188.0 517.0,235.0 493.5,211.5" fill="#f7f7f7" stroke="#f7f7f7"/>
<polygon points="517.0,235.0 470.0,235.0 493.5,211.5" fill="#fdfdfd" stroke="#fdfdfd"/>
<polygon points="470.0,235.0 470.0,188.0 493.5,211.5" fill="#f7f7f7" stroke="#f7f7f7"/>
<polygon points="517.0,188.0 564.0,188.0 540.5,211.5" fill="#fafafa" stroke="#fafafa"/>
<polygon points="564.0,188.0 564.0,235.0 540.5,211.5" fill="#fafafa" stroke="#fafafa"/>
<polygon points="564.0,235.0 517.0,235.0 540.5,211.5" fill="#fdfdfd" stroke="#fdfdfd"/>
<polygon points="517.0,235.0 517.0,188.0 540.5,211.5" fill="#fafafa" stroke="#fafafa"/>
<polygon points="564.0,188.0 611.0,188.0 564.0,235.0" fill="#fdfdfd" stroke="#fdfdfd"/>
<polygon points="611.0,188.0 611.0,235.0 564.0,235.0" fill="#fafafa" stroke="#fafafa"/>
<polygon points="611.0,188.0 658.0,188.0 611.0,235.0" fill="#fafafa" stroke="#fafafa"/>
<polygon points="658.0,188.0 658.0,235.0 611.0,235.0" fill="#fdfdfd" stroke="#fdfdfd"/>
<polygon points="658.0,188.0 705.0,188.0 681.5,211.5" fill="#fdfdfd" stroke="#fdfdfd"/>
<polygon points="705.0,188.0 705.0,235.0 681.5,211.5" fill="#fafafa" stroke="#fafafa"/>
<polygon points="705.0,235.0 658.0,235.0 681.5,211.5" fill="#fafafa" stroke="#fafafa"/>
<polygon points="658.0,235.0 658.0,188.0 681.5,211.5" fill="#fafafa" stroke="#fafafa"/>
<polygon points="705.0,188.0 752.0,188.0 728.5,211.5" fill="#fafafa" stroke="#fafafa"/>
<polygon points="752.0,188.0 752.0,235.0 728.5,211.5" fill="#fafafa" stroke="#fafafa"/>
<polygon points="752.0,235.0 705.0,235.0 728.5,211.5" fill="#fdfdfd" stroke="#fdfdfd"/>
<polygon points="705.0,235.0 705.0,188.0 728.5,211.5" fill="#f7f7f7" stroke="#f7f7f7"/>
<polygon points="752.0,188.0 799.0,188.0 799.0,235.0" fill="#f7f7f7" stroke="#f7f7f7"/>
<polygon points="752.0,188.0 799.0,235.0 752.0,235.0" fill="#fdfdfd" stroke="#fdfdfd"/>
<polygon points="799.0,188.0 846.0,188.0 822.5,211.5" fill="#fafafa" stroke="#fafafa"/>
<polygon points="846.0,188.0 846.0,235.0 822.5,211.5" fill="#fafafa" stroke="#fafafa"/>
<polygon points="846.0,235.0 799.0,235.0 822.5,211.5" fill="#fafafa" stroke="#fafafa"/>
<polygon points="799.0,235.0 799.0,188.0 822.5,211.5" fill="#fafafa" stroke="#fafafa"/>
<polygon points="846.0,188.0 893.0,188.0 869.5,211.5" fill="#fdfdfd" stroke="#fdfdfd"/>
<polygon points="893.0,188.0 893.0,235.0 869.5,211.5" fill="#fdfdfd" stroke="#fdfdfd"/>
<polygon points="893.0,235.0 846.0,235.0 869.5,211.5" fill="#fdfdfd" stroke="#fdfdfd"/>
<polygon points="846.0,235.0 846.0,188.0 869.5,211.5" fill="#fafafa" stroke="#fafafa"/>
<polygon points="893.0,188.0 940.0,188.0 893.0,235.0" fill="#fafafa" stroke="#fafafa"/>
<polygon points="940.0,188.0 940.0,235.0 893.0,235.0" fill="#fdfdfd" stroke="#fdfdfd"/>
<polygon points="940.0,188.0 987.0,188.0 963.5,211.5" fill="#fdfdfd" stroke="#fdfdfd"/>
<polygon points="987.0,188.0 987.0,235.0 963.5,211.5" fill="#f7f7f7" stroke="#f7f7f7"/>
<polygon points="987.0,235.0 940.0,235.0 963.5,211.5" fill="#fdfdfd" stroke="#fdfdfd"/>
<polygon points="940.0,235.0 940.0,188.0 963.5,211.5" fill="#fafafa" stroke="#fafafa"/>
<polygon points="987.0,188.0 1034.0,188.0 1010.5,211.5" fill="#fafafa" stroke="#fafafa"/>
<polygon points="1034.0,188.0 1034.0,235.0 1010.5,211.5" fill="#fdfdfd" stroke="#fdfdfd"/>
<polygon points="1034.0,235.0 987.0,235.0 1010.5,211.5" fill="#fdfdfd" stroke="#fdfdfd"/>
<polygon points="987.0,235.0 987.0,188.0 1010.5,211.5" fill="#fdfdfd" stroke="#fdfdfd"/>
<polygon points="0.0,235.0 47.0,235.0 0.0,282.0" fill="#fdfdfd" stroke="#fdfdfd"/>
<polygon points="47.0,235.0 47.0,282.0 0.0,282.0" fill="#f7f7f7" stroke="#f7f7f7"/>
<polygon points="47.0,235.0 94.0,235.0 70.5,258.5" fill="#fdfdfd" stroke="#fdfdfd"/>
<polygon points="94.0,235.0 94.0,282.0 70.5,258.5" fill="#fdfdfd" stroke="#fdfdfd"/>
<polygon points="94.0,282.0 47.0,282.0 70.5,258.5" fill="#fdfdfd" stroke="#fdfdfd"/>
<polygon points="47.0,282.0 47.0,235.0 70.5,258.5" fill="#fafafa" stroke="#fafafa"/>
<polygon points="94.0,235.0 141.0,235.0 141.0,282.0" fill="#fdfdfd" stroke="#fdfdfd"/>
<polygon points="94.0,235.0 141.0,282.0 94.0,282.0" fill="#fdfdfd" stroke="#fdfdfd"/>
<polygon points="141.0,235.0 188.0,235.0 141.0,282.0" fill="#fafafa" stroke="#fafafa"/>
<polygon points="188.0,235.0 188.0,282.0 141.0,282.0" fill="#fafafa" stroke="#fafafa"/>
<polygon points="188.0,235.0 235.0,235.0 211.5,258.5" fill="#fdfdfd" stroke="#fdfdfd"/>
<polygon points="235.0,235.0 235.0,282.0 211.5,258.5" fill="#fdfdfd" stroke="#fdfdfd"/>
<polygon points="235.0,282.0 188.0,282.0 211.5,258.5" fill="#fafafa" stroke="#fafafa"/>
<polygon points="188.0,282.0 188.0,235.0 211.5,258.5" fill="#fafafa" stroke="#fafafa"/>
<polygon points="235.0,235.0 282.0,235.0 258.5,258.5" fill="#fdfdfd" stroke="#fdfdfd"/>
<polygon points="282.0,235.0 282.0,282.0 258.5,258.5" fill="#fafafa" stroke="#fafafa"/>
<polygon points="282.0,282.0 235.0,282.0 258.5,258.5" fill="#fdfdfd" stroke="#fdfdfd"/>
<polygon points="235.0,282.0 235.0,235.0 258.5,258.5" fill="#f7f7f7" stroke="#f7f7f7"/>
<polygon points="282.0,235.0 329.0,235.0 282.0,282.0" fill="#fdfdfd" stroke="#fdfdfd"/>
<polygon points="329.0,235.0 329.0,282.0 282.0,282.0" fill="#fafafa" stroke="#fafafa"/>
<polygon points="329.0,235.0 376.0,235.0 329.0,282.0" fill="#f7f7f7" stroke="#f7f7f7"/>
<polygon points="376.0,235.0 376.0,282.0 329.0,282.0" fill="#fafafa" stroke="#fafafa"/>
<polygon points="376.0,235.0 423.0,235.0 399.5,258.5" fill="#f7f7f7" stroke="#f7f7f7"/>
<polygon points="423.0,235.0 423.0,282.0 399.5,258.5" fill="#fdfdfd" stroke="#fdfdfd"/>
<polygon points="423.0,282.0 376.0,282.0 399.5,258.5" fill="#fafafa" stroke="#fafafa"/>
<polygon points="376.0,282.0 376.0,235.0 399.5,258.5" fill="#fafafa" stroke="#fafafa"/>
<polygon points="423.0,235.0 470.0,235.0 446.5,258.5" fill="#fafafa" stroke="#fafafa"/>
<polygon points="470.0,235.0 470.0,282.0 446.5,258.5" fill="#fafafa" stroke="#fafafa"/>
<polygon points="470.0,282.0 423.0,282.0 446.5,258.5" fill="#fdfdfd" stroke="#fdfdfd"/>
<polygon points="423.0,282.0 423.0,235.0 446.5,258.5" fill="#fafafa" stroke="#fafafa"/>
<polygon points="470.0,235.0 517.0,235.0 493.5,258.5" fill="#fdfdfd" stroke="#fdfdfd"/>
<polygon points="517.0,235.0 517.0,282.0 493.5,258.5" fill="#fafafa" stroke="#fafafa"/>
<polygon points="517.0,282.0 470.0,282.0 493.5,258.5" fill="#fdfdfd" stroke="#fdfdfd"/>
<polygon points="470.0,282.0 470.0,235.0 493.5,258.5" fill="#fafafa" stroke="#fafafa"/>
<polygon points="517.0,235.0 564.0,235.0 564.0,282.0" fill="#fafafa" stroke="#fafafa"/>
<polygon points="517.0,235.0 564.0,282.0 517.0,282.0" fill="#f7f7f7" stroke="#f7f7f7"/>
<polygon points="564.0,235.0 611.0,235.0 611.0,282.0" fill="#fafafa" stroke="#fafafa"/>
<polygon points="564.0,235.0 611.0,282.0 564.0,282.0" fill="#fafafa" stroke="#fafafa"/>
<polygon points="611.0,235.0 658.0,235.0 634.5,258.5" fill="#fdfdfd" stroke="#fdfdfd"/>
<polygon points="658.0,235.0 658.0,282.0 634.5,258.5" fill="#fdfdfd" stroke="#fdfdfd"/>
<polygon points="658.0,282.0 611.0,282.0 634.5,258.5" fill="#fdfdfd" stroke="#fdfdfd"/>
<polygon points="611.0,282.0 611.0,235.0 634.5,258.5" fill="#fafafa" stroke="#fafafa"/>
<polygon points="658.0,235.0 705.0,235.0 705.0,282.0" fill="#f7f7f7" stroke="#f7f7f7"/>
<polygon points="658.0,235.0 705.0,282.0 658.0,282.0" fill="#fafafa" stroke="#fafafa"/>
<polygon points="705.0,235.0 752.0,235.0 728.5,258.5" fill="#f7f7f7" stroke="#f7f7f7"/>
<polygon points="752.0,235.0 752.0,282.0 728.5,258.5" fill="#fafafa" stroke="#fafafa"/>
<polygon points="752.0,282.0 705.0,282.0 728.5,258.5" fill="#f7f7f7" stroke="#f7f7f7"/>
<polygon points="705.0,282.0 705.0,235.0 728.5,258.5" fill="#fafafa" stroke="#fafafa"/>
<polygon points="752.0,235.0 799.0,235.0 799.0,282.0" fill="#f7f7f7" stroke="#f7f7f7"/>
<polygon points="752.0,235.0 799.0,282.0 752.0,282.0" fill="#f7f7f7" stroke="#f7f7f7"/>
<polygon points="799.0,235.0 846.0,235.0 846.0,282.0" fill="#fafafa" stroke="#fafafa"/>
<polygon points="799.0,235.0 846.0,282.0 799.0,282.0" fill="#fdfdfd" stroke="#fdfdfd"/>
<polygon points="846.0,235.0 893.0,235.0 869.5,258.5" fill="#fdfdfd" stroke="#fdfdfd"/>
<polygon points="893.0,235.0 893.0,282.0 869.5,258.5" fill="#fdfdfd" stroke="#fdfdfd"/>
<polygon points="893.0,282.0 846.0,282.0 869.5,258.5" fill="#fdfdfd" stroke="#fdfdfd"/>
<polygon points="846.0,282.0 846.0,235.0 869.5,258.5" fill="#fdfdfd" stroke="#fdfdfd"/>
<polygon points="893.0,235.0 940.0,235.0 916.5,258.5" fill="#fafafa" stroke="#fafafa"/>
<polygon points="940.0,235.0 940.0,282.0 916.5,258.5" fill="#fafafa" stroke="#fafafa"/>
<polygon points="940.0,282.0 893.0,282.0 916.5,258.5" fill="#fdfdfd" stroke="#fdfdfd"/>
<polygon points="893.0,282.0 893.0,235.0 916.5,258.5" fill="#fafafa" stroke="#fafafa"/>
<polygon points="940.0,235.0 987.0,235.0 963.5,258.5" fill="#fdfdfd" stroke="#fdfdfd"/>
<polygon points="987.0,235.0 987.0,282.0 963.5,258.5" fill="#fafafa" stroke="#fafafa"/>
<polygon points="987.0,282.0 940.0,282.0 963.5,258.5" fill="#fdfdfd" stroke="#fdfdfd"/>
<polygon points="940.0,282.0 940.0,235.0 963.5,258.5" fill="#fdfdfd" stroke="#fdfdfd"/>
<polygon points="987.0,235.0 1034.0,235.0 987.0,282.0" fill="#fdfdfd" stroke="#fdfdfd"/>
<polygon points="1034.0,235.0 1034.0,282.0 987.0,282.0" fill="#fdfdfd" stroke="#fdfdfd"/>
<polygon points="0.0,282.0 47.0,282.0 0.0,329.0" fill="#fdfdfd" stroke="#fdfdfd"/>
<polygon points="47.0,282.0 47.0,329.0 0.0,329.0" fill="#fdfdfd" stroke="#fdfdfd"/>
<polygon points="47.0,282.0 94.0,282.0 70.5,305.5" fill="#fafafa" stroke="#fafafa"/>
<polygon points="94.0,282.0 94.0,329.0 70.5,305.5" fill="#fdfdfd" stroke="#fdfdfd"/>
<polygon points="94.0,329.0 47.0,329.0 70.5,305.5" fill="#fdfdfd" stroke="#fdfdfd"/>
<polygon points="47.0,329.0 47.0,282.0 70.5,305.5" fill="#fdfdfd" stroke="#fdfdfd"/>
<polygon points="94.0,282.0 141.0,282.0 117.5,305.5" fill="#fdfdfd" stroke="#fdfdfd"/>
<polygon points="141.0,282.0 141.0,329.0 117.5,305.5" fill="#fdfdfd" stroke="#fdfdfd"/>
<polygon points="141.0,329.0 94.0,329.0 117.5,305.5" fill="#fdfdfd" stroke="#fdfdfd"/>
<polygon points="94.0,329.0 94.0,282.0 117.5,305.5" fill="#fdfdfd" stroke="#fdfdfd"/>
<polygon points="141.0,282.0 188.0,282.0 164.5,305.5" fill="#fdfdfd" stroke="#fdfdfd"/>
<polygon points="188.0,282.0 188.0,329.0 164.5,305.5" fill="#fdfdfd" stroke="#fdfdfd"/>
<polygon points="188.0,329.0 141.0,329.0 164.5,305.5" fill="#fdfdfd" stroke="#fdfdfd"/>
<polygon points="141.0,329.0 141.0,282.0 164.5,305.5" fill="#fdfdfd" stroke="#fdfdfd"/>
<polygon points="188.0,282.0 235.0,282.0 211.5,305.5" fill="#fdfdfd" stroke="#fdfdfd"/>
<polygon points="235.0,282.0 235.0,329.0 211.5,305.5" fill="#fafafa" stroke="#fafafa"/>
<polygon points="235.0,329.0 188.0,329.0 211.5,305.5" fill="#fdfdfd" stroke="#fdfdfd"/>
<polygon points="188.0,329.0 188.0,282.0 211.5,305.5" fill="#fdfdfd" stroke="#fdfdfd"/>
<polygon points="235.0,282.0 282.0,282.0 258.5,305.5" fill="#fdfdfd" stroke="#fdfdfd"/>
<polygon points="282.0,282.0 282.0,329.0 258.5,305.5" fill="#f7f7f7" stroke="#f7f7f7"/>
<polygon points="282.0,329.0 235.0,329.0 258.5,305.5" fill="#fdfdfd" stroke="#fdfdfd"/>
<polygon points="235.0,329.0 235.0,282.0 258.5,305.5" fill="#fdfdfd" stroke="#fdfdfd"/>
<polygon points="282.0,282.0 329.0,282.0 305.5,305.5" fill="#fdfdfd" stroke="#fdfdfd"/>
<polygon points="329.0,282.0 329.0,329.0 305.5,305.5" fill="#fafafa" stroke="#fafafa"/>
<polygon points="329.0,329.0 282.0,329.0 305.5,305.5" fill="#fdfdfd" stroke="#fdfdfd"/>
<polygon points="282.0,329.0 282.0,282.0 305.5,305.5" fill="#fdfdfd" stroke="#fdfdfd"/>
<polygon points="329.0,282.0 376.0,282.0 352.5,305.5" fill="#fafafa" stroke="#fafafa"/>
<polygon points="376.0,282.0 376.0,329.0 352.5,305.5" fill="#fdfdfd" stroke="#fdfdfd"/>
<polygon points="376.0,329.0 329.0,329.0 352.5,305.5" fill="#fafafa" stroke="#fafafa"/>
<polygon points="329.0,329.0 329.0,282.0 352.5,305.5" fill="#fdfdfd" stroke="#fdfdfd"/>
<polygon points="376.0,282.0 423.0,282.0 423.0,329.0" fill="#fdfdfd" stroke="#fdfdfd"/>
<polygon points="376.0,282.0 423.0,329.0 376.0,329.0" fill="#fdfdfd" stroke="#fdfdfd"/>
<polygon points="423.0,282.0 470.0,282.0 423.0,329.0" fill="#fdfdfd" stroke="#fdfdfd"/>
<polygon points="470.0,282.0 470.0,329.0 423.0,329.0" fill="#fdfdfd" stroke="#fdfdfd"/>
<polygon points="470.0,282.0 517.0,282.0 470.0,329.0" fill="#fafafa" stroke="#fafafa"/>
<polygon points="517.0,282.0 517.0,329.0 470.0,329.0" fill="#fdfdfd" stroke="#fdfdfd"/>
<polygon points="517.0,282.0 564.0,282.0 540.5,305.5" fill="#fdfdfd" stroke="#fdfdfd"/>
<polygon points="564.0,282.0 564.0,329.0 540.5,305.5" fill="#fdfdfd" stroke="#fdfdfd"/>
<polygon points="564.0,329.0 517.0,329.0 540.5,305.5" fill="#fdfdfd" stroke="#fdfdfd"/>
<polygon points="517.0,329.0 517.0,282.0 540.5,305.5" fill="#fdfdfd" stroke="#fdfdfd"/>
<polygon points="564.0,282.0 611.0,282.0 564.0,329.0" fill="#fdfdfd" stroke="#fdfdfd"/>
<polygon points="611.0,282.0 611.0,329.0 564.0,329.0" fill="#f7f7f7" stroke="#f7f7f7"/>
<polygon points="611.0,282.0 658.0,282.0 634.5,305.5" fill="#f7f7f7" stroke="#f7f7f7"/>
<polygon points="658.0,282.0 658.0,329.0 634.5,305.5" fill="#f7f7f7" stroke="#f7f7f7"/>
<polygon points="658.0,329.0 611.0,329.0 634.5,305.5" fill="#f7f7f7" stroke="#f7f7f7"/>
<polygon points="611.0,329.0 611.0,282.0 634.5,305.5" fill="#fdfdfd" stroke="#fdfdfd"/>
<polygon points="658.0,282.0 705.0,282.0 681.5,305.5" fill="#fafafa" stroke="#fafafa"/>
<polygon points="705.0,282.0 705.0,329.0 681.5,305.5" fill="#f7f7f7" stroke="#f7f7f7"/>
<polygon points="705.0,329.0 658.0,329.0 681.5,305.5" fill="#fdfdfd" stroke="#fdfdfd"/>
<polygon points="658.0,329.0 658.0,282.0 681.5,305.5" fill="#fdfdfd" stroke="#fdfdfd"/>
<polygon points="705.0,282.0 752.0,282.0 752.0,329.0" fill="#fdfdfd" stroke="#fdfdfd"/>
<polygon points="705.0,282.0 752.0,329.0 705.0,329.0" fill="#fdfdfd" stroke="#fdfdfd"/>
<polygon points="752.0,282.0 799.0,282.0 752.0,329.0" fill="#fdfdfd" stroke="#fdfdfd"/>
<polygon points="799.0,282.0 799.0,329.0 752.0,329.0" fill="#fafafa" stroke="#fafafa"/>
<polygon points="799.0,282.0 846.0,282.0 799.0,329.0" fill="#fafafa" stroke="#fafafa"/>
<polygon points="846.0,282.0 846.0,329.0 799.0,329.0" fill="#f7f7f7" stroke="#f7f7f7"/>
<polygon points="846.0,282.0 893.0,282.0 869.5,305.5" fill="#fdfdfd" stroke="#fdfdfd"/>
<polygon points="893.0,282.0 893.0,329.0 869.5,305.5" fill="#fdfdfd" stroke="#fdfdfd"/>
<polygon points="893.0,329.0 846.0,329.0 869.5,305.5" fill="#fafafa" stroke="#fafafa"/>
<polygon points="846.0,329.0 846.0,282.0 869.5,305.5" fill="#fdfdfd" stroke="#fdfdfd"/>
<polygon points="893.0,282.0 940.0,282.0 916.5,305.5" fill="#fdfdfd" stroke="#fdfdfd"/>
<polygon points="940.0,282.0 940.0,329.0 916.5,305.5" fill="#fafafa" stroke="#fafafa"/>
<polygon points="940.0,329.0 893.0,329.0 916.5,305.5" fill="#fafafa" stroke="#fafafa"/>
<polygon points="893.0,329.0 893.0,282.0 916.5,305.5" fill="#fafafa" stroke="#fafafa"/>
<polygon points="940.0,282.0 987.0,282.0 963.5,305.5" fill="#fdfdfd" stroke="#fdfdfd"/>
<polygon points="987.0,282.0 987.0,329.0 963.5,305.5" fill="#fdfdfd" stroke="#fdfdfd"/>
<polygon points="987.0,329.0 940.0,329.0 963.5,305.5" fill="#fafafa" stroke="#fafafa"/>
<polygon points="940.0,329.0 940.0,282.0 963.5,305.5" fill="#fdfdfd" stroke="#fdfdfd"/>
<polygon points="987.0,282.0 1034.0,282.0 1010.5,305.5" fill="#fafafa" stroke="#fafafa"/>
<polygon points="1034.0,282.0 1034.0,329.0 1010.5,305.5" fill="#fafafa" stroke="#fafafa"/>
<polygon points="1034.0,329.0 987.0,329.0 1010.5,305.5" fill="#fdfdfd" stroke="#fdfdfd"/>
<polygon points="987.0,329.0 987.0,282.0 1010.5,305.5" fill="#fdfdfd" stroke="#fdfdfd"/>
<polygon points="0.0,329.0 47.0,329.0 0.0,376.0" fill="#f7f7f7" stroke="#f7f7f7"/>
<polygon points="47.0,329.0 47.0,376.0 0.0,376.0" fill="#f7f7f7" stroke="#f7f7f7"/>
<polygon points="47.0,329.0 94.0,329.0 70.5,352.5" fill="#f7f7f7" stroke="#f7f7f7"/>
<polygon points="94.0,329.0 94.0,376.0 70.5,352.5" fill="#fafafa" stroke="#fafafa"/>
<polygon points="94.0,376.0 47.0,376.0 70.5,352.5" fill="#fdfdfd" stroke="#fdfdfd"/>
<polygon points="47.0,376.0 47.0,329.0 70.5,352.5" fill="#fdfdfd" stroke="#fdfdfd"/>
<polygon points="94.0,329.0 141.0,329.0 117.5,352.5" fill="#fdfdfd" stroke="#fdfdfd"/>
<polygon points="141.0,329.0 141.0,376.0 117.5,352.5" fill="#f7f7f7" stroke="#f7f7f7"/>
<polygon points="141.0,376.0 94.0,376.0 117.5,352.5" fill="#fdfdfd" stroke="#fdfdfd"/>
<polygon points="94.0,376.0 94.0,329.0 117.5,352.5" fill="#fafafa" stroke="#fafafa"/>
<polygon points="141.0,329.0 188.0,329.0 164.5,352.5" fill="#fdfdfd" stroke="#fdfdfd"/>
<polygon points="188.0,329.0 188.0,376.0 164.5,352.5" fill="#fafafa" stroke="#fafafa"/>
<polygon points="188.0,376.0 141.0,376.0 164.5,352.5" fill="#fdfdfd" stroke="#fdfdfd"/>
<polygon points="141.0,376.0 141.0,329.0 164.5,352.5" fill="#fdfdfd" stroke="#fdfdfd"/>
<polygon points="188.0,329.0 235.0,329.0 211.5,352.5" fill="#fafafa" stroke="#fafafa"/>
<polygon points="235.0,329.0 235.0,376.0 211.5,352.5" fill="#fafafa" stroke="#fafafa"/>
<polygon points="235.0,376.0 188.0,376.0 211.5,352.5" fill="#fdfdfd" stroke="#fdfdfd"/>
<polygon points="188.0,376.0 188.0,329.0 211.5,352.5" fill="#fdfdfd" stroke="#fdfdfd"/>
<polygon points="235.0,329.0 282.0,329.0 282.0,376.0" fill="#fafafa" stroke="#fafafa"/>
<polygon points="235.0,329.0 282.0,376.0 235.0,376.0" fill="#fdfdfd" stroke="#fdfdfd"/>
<polygon points="282.0,329.0 329.0,329.0 282.0,376.0" fill="#fafafa" stroke="#fafafa"/>
<polygon points="329.0,329.0 329.0,376.0 282.0,376.0" fill="#fafafa" stroke="#fafafa"/>
<polygon points="329.0,329.0 376.0,329.0 352.5,352.5" fill="#fdfdfd" stroke="#fdfdfd"/>
<polygon points="376.0,329.0 376.0,376.0 352.5,352.5" fill="#fdfdfd" stroke="#fdfdfd"/>
<polygon points="376.0,376.0 329.0,376.0 352.5,352.5" fill="#f7f7f7" stroke="#f7f7f7"/>
<polygon points="329.0,376.0 329.0,329.0 352.5,352.5" fill="#fdfdfd" stroke="#fdfdfd"/>
<polygon points="376.0,329.0 423.0,329.0 399.5,352.5" fill="#f7f7f7" stroke="#f7f7f7"/>
<polygon points="423.0,329.0 423.0,376.0 399.5,352.5" fill="#fdfdfd" stroke="#fdfdfd"/>
<polygon points="423.0,376.0 376.0,376.0 399.5,352.5" fill="#f7f7f7" stroke="#f7f7f7"/>
<polygon points="376.0,376.0 376.0,329.0 399.5,352.5" fill="#fdfdfd" stroke="#fdfdfd"/>
<polygon points="423.0,329.0 470.0,329.0 446.5,352.5" fill="#fdfdfd" stroke="#fdfdfd"/>
<polygon points="470.0,329.0 470.0,376.0 446.5,352.5" fill="#f7f7f7" stroke="#f7f7f7"/>
<polygon points="470.0,376.0 423.0,376.0 446.5,352.5" fill="#fafafa" stroke="#fafafa"/>
<polygon points="423.0,376.0 423.0,329.0 446.5,352.5" fill="#fafafa" stroke="#fafafa"/>
<polygon points="470.0,329.0 517.0,329.0 470.0,376.0" fill="#fdfdfd" stroke="#fdfdfd"/>
<polygon points="517.0,329.0 517.0,376.0 470.0,376.0" fill="#fafafa" stroke="#fafafa"/>
<polygon points="517.0,329.0 564.0,329.0 540.5,352.5" fill="#fdfdfd" stroke="#fdfdfd"/>
<polygon points="564.0,329.0 564.0,376.0 540.5,352.5" fill="#f7f7f7" stroke="#f7f7f7"/>
<polygon points="564.0,376.0 517.0,376.0 540.5,352.5" fill="#fafafa" stroke="#fafafa"/>
<polygon points="517.0,376.0 517.0,329.0 540.5,352.5" fill="#f7f7f7" stroke="#f7f7f7"/>
<polygon points="564.0,329.0 611.0,329.0 587.5,352.5" fill="#fafafa" stroke="#fafafa"/>
<polygon points="611.0,329.0 611.0,376.0 587.5,352.5" fill="#fdfdfd" stroke="#fdfdfd"/>
<polygon points="611.0,376.0 564.0,376.0 587.5,352.5" fill="#fafafa" stroke="#fafafa"/>
<polygon points="564.0,376.0 564.0,329.0 587.5,352.5" fill="#fdfdfd" stroke="#fdfdfd"/>
<polygon points="611.0,329.0 658.0,329.0 634.5,352.5" fill="#fdfdfd" stroke="#fdfdfd"/>
<polygon points="658.0,329.0 658.0,376.0 634.5,352.5" fill="#fdfdfd" stroke="#fdfdfd"/>
<polygon points="658.0,376.0 611.0,376.0 634.5,352.5" fill="#fafafa" stroke="#fafafa"/>
<polygon points="611.0,376.0 611.0,329.0 634.5,352.5" fill="#fafafa" stroke="#fafafa"/>
<polygon points="658.0,329.0 705.0,329.0 681.5,352.5" fill="#fafafa" stroke="#fafafa"/>
<polygon points="705.0,329.0 705.0,376.0 681.5,352.5" fill="#fafafa" stroke="#fafafa"/>
<polygon points="705.0,376.0 658.0,376.0 681.5,352.5" fill="#fdfdfd" stroke="#fdfdfd"/>
<polygon points="658.0,376.0 658.0,329.0 681.5,352.5" fill="#fdfdfd" stroke="#fdfdfd"/>
<polygon points="705.0,329.0 752.0,329.0 752.0,376.0" fill="#fdfdfd" stroke="#fdfdfd"/>
<polygon points="705.0,329.0 752.0,376.0 705.0,376.0" fill="#fdfdfd" stroke="#fdfdfd"/>
<polygon points="752.0,329.0 799.0,329.0 775.5,352.5" fill="#fdfdfd" stroke="#fdfdfd"/>
<polygon points="799.0,329.0 799.0,376.0 775.5,352.5" fill="#f7f7f7" stroke="#f7f7f7"/>
<polygon points="799.0,376.0 752.0,376.0 775.5,352.5" fill="#fafafa" stroke="#fafafa"/>
<polygon points="752.0,376.0 752.0,329.0 775.5,352.5" fill="#f7f7f7" stroke="#f7f7f7"/>
<polygon points="799.0,329.0 846.0,329.0 799.0,376.0" fill="#f7f7f7" stroke="#f7f7f7"/>
<polygon points="846.0,329.0 846.0,376.0 799.0,376.0" fill="#fafafa" stroke="#fafafa"/>
<polygon points="846.0,329.0 893.0,329.0 869.5,352.5" fill="#f7f7f7" stroke="#f7f7f7"/>
<polygon points="893.0,329.0 893.0,376.0 869.5,352.5" fill="#f7f7f7" stroke="#f7f7f7"/>
<polygon points="893.0,376.0 846.0,376.0 869.5,352.5" fill="#f7f7f7" stroke="#f7f7f7"/>
<polygon points="846.0,376.0 846.0,329.0 869.5,352.5" fill="#fdfdfd" stroke="#fdfdfd"/>
<polygon points="893.0,329.0 940.0,329.0 940.0,376.0" fill="#f7f7f7" stroke="#f7f7f7"/>
<polygon points="893.0,329.0 940.0,376.0 893.0,376.0" fill="#f7f7f7" stroke="#f7f7f7"/>
<polygon points="940.0,329.0 987.0,329.0 963.5,352.5" fill="#f7f7f7" stroke="#f7f7f7"/>
<polygon points="987.0,329.0 987.0,376.0 963.5,352.5" fill="#fdfdfd" stroke="#fdfdfd"/>
<polygon points="987.0,376.0 940.0,376.0 963.5,352.5" fill="#fdfdfd" stroke="#fdfdfd"/>
<polygon points="940.0,376.0 940.0,329.0 963.5,352.5" fill="#fafafa" stroke="#fafafa"/>
<polygon points="987.0,329.0 1034.0,329.0 1010.5,352.5" fill="#fafafa" stroke="#fafafa"/>
<polygon points="1034.0,329.0 1034.0,376.0 1010.5,352.5" fill="#fafafa" stroke="#fafafa"/>
<polygon points="1034.0,376.0 987.0,376.0 1010.5,352.5" fill="#fdfdfd" stroke="#fdfdfd"/>
<polygon points="987.0,376.0 987.0,329.0 1010.5,352.5" fill="#fafafa" stroke="#fafafa"/>
<polygon points="0.0,376.0 47.0,376.0 23.5,399.5" fill="#fdfdfd" stroke="#fdfdfd"/>
<polygon points="47.0,376.0 47.0,423.0 23.5,399.5" fill="#fdfdfd" stroke="#fdfdfd"/>
<polygon points="47.0,423.0 0.0,423.0 23.5,399.5" fill="#fafafa" stroke="#fafafa"/>
<polygon points="0.0,423.0 0.0,376.0 23.5,399.5" fill="#fafafa" stroke="#fafafa"/>
<polygon points="47.0,376.0 94.0,376.0 70.5,399.5" fill="#fdfdfd" stroke="#fdfdfd"/>
<polygon points="94.0,376.0 94.0,423.0 70.5,399.5" fill="#fdfdfd" stroke="#fdfdfd"/>
<polygon points="94.0,423.0 47.0,423.0 70.5,399.5" fill="#fdfdfd" stroke="#fdfdfd"/>
<polygon points="47.0,423.0 47.0,376.0 70.5,399.5" fill="#fdfdfd" stroke="#fdfdfd"/>
<polygon points="94.0,376.0 141.0,376.0 117.5,399.5" fill="#fafafa" stroke="#fafafa"/>
<polygon points="141.0,376.0 141.0,423.0 117.5,399.5" fill="#fafafa" stroke="#fafafa"/>
<polygon points="141.0,423.0 94.0,423.0 117.5,399.5" fill="#f7f7f7" stroke="#f7f7f7"/>
<polygon points="94.0,423.0 94.0,376.0 117.5,399.5" fill="#f7f7f7" stroke="#f7f7f7"/>
<polygon points="141.0,376.0 188.0,376.0 188.0,423.0" fill="#fdfdfd" stroke="#fdfdfd"/>
<polygon points="141.0,376.0 188.0,423.0 141.0,423.0" fill="#fdfdfd" stroke="#fdfdfd"/>
<polygon points="188.0,376.0 235.0,376.0 211.5,399.5" fill="#fafafa" stroke="#fafafa"/>
<polygon points="235.0,376.0 235.0,423.0 211.5,399.5" fill="#fafafa" stroke="#fafafa"/>
<polygon points="235.0,423.0 188.0,423.0 211.5,399.5" fill="#fdfdfd" stroke="#fdfdfd"/>
<polygon points="188.0,423.0 188.0,376.0 211.5,399.5" fill="#f7f7f7" stroke="#f7f7f7"/>
<polygon points="235.0,376.0 282.0,376.0 258.5,399.5" fill="#fdfdfd" stroke="#fdfdfd"/>
<polygon points="282.0,376.0 282.0,423.0 258.5,399.5" fill="#f7f7f7" stroke="#f7f7f7"/>
<polygon points="282.0,423.0 235.0,423.0 258.5,399.5" fill="#f7f7f7" stroke="#f7f7f7"/>
<polygon points="235.0,423.0 235.0,376.0 258.5,399.5" fill="#fdfdfd" stroke="#fdfdfd"/>
<polygon points="282.0,376.0 329.0,376.0 305.5,399.5" fill="#f7f7f7" stroke="#f7f7f7"/>
<polygon points="329.0,376.0 329.0,423.0 305.5,399.5" fill="#fdfdfd" stroke="#fdfdfd"/>
<polygon points="329.0,423.0 282.0,423.0 305.5,399.5" fill="#fdfdfd" stroke="#fdfdfd"/>
<polygon points="282.0,423.0 282.0,376.0 305.5,399.5" fill="#fafafa" stroke="#fafafa"/>
<polygon points="329.0,376.0 376.0,376.0 376.0,423.0" fill="#fdfdfd" stroke="#fdfdfd"/>
<polygon points="329.0,376.0 376.0,423.0 329.0,423.0" fill="#fdfdfd" stroke="#fdfdfd"/>
<polygon points="376.0,376.0 423.0,376.0 423.0,423.0" fill="#f7f7f7" stroke="#f7f7f7"/>
<polygon points="376.0,376.0 423.0,423.0 376.0,423.0" fill="#fafafa" stroke="#fafafa"/>
<polygon points="423.0,376.0 470.0,376.0 470.0,423.0" fill="#fdfdfd" stroke="#fdfdfd"/>
<polygon points="423.0,376.0 470.0,423.0 423.0,423.0" fill="#fdfdfd" stroke="#fdfdfd"/>
<polygon points="470.0,376.0 517.0,376.0 493.5,399.5" fill="#fdfdfd" stroke="#fdfdfd"/>
<polygon points="517.0,376.0 517.0,423.0 493.5,399.5" fill="#fdfdfd" stroke="#fdfdfd"/>
<polygon points="517.0,423.0 470.0,423.0 493.5,399.5" fill="#fafafa" stroke="#fafafa"/>
<polygon points="470.0,423.0 470.0,376.0 493.5,399.5" fill="#fdfdfd" stroke="#fdfdfd"/>
<polygon points="517.0,376.0 564.0,376.0 540.5,399.5" fill="#fdfdfd" stroke="#fdfdfd"/>
<polygon points="564.0,376.0 564.0,423.0 540.5,399.5" fill="#f7f7f7" stroke="#f7f7f7"/>
<polygon points="564.0,423.0 517.0,423.0 540.5,399.5" fill="#fdfdfd" stroke="#fdfdfd"/>
<polygon points="517.0,423.0 517.0,376.0 540.5,399.5" fill="#fdfdfd" stroke="#fdfdfd"/>
<polygon points="564.0,376.0 611.0,376.0 587.5,399.5" fill="#fdfdfd" stroke="#fdfdfd"/>
<polygon points="611.0,376.0 611.0,423.0 587.5,399.5" fill="#fafafa" stroke="#fafafa"/>
<polygon points="611.0,423.0 564.0,423.0 587.5,399.5" fill="#fafafa" stroke="#fafafa"/>
<polygon points="564.0,423.0 564.0,376.0 587.5,399.5" fill="#f7f7f7" stroke="#f7f7f7"/>
<polygon points="611.0,376.0 658.0,376.0 658.0,423.0" fill="#fdfdfd" stroke="#fdfdfd"/>
<polygon points="611.0,376.0 658.0,423.0 611.0,423.0" fill="#fafafa" stroke="#fafafa"/>
<polygon points="658.0,376.0 705.0,376.0 658.0,423.0" fill="#f7f7f7" stroke="#f7f7f7"/>
<polygon points="705.0,376.0 705.0,423.0 658.0,423.0" fill="#fafafa" stroke="#fafafa"/>
<polygon points="705.0,376.0 752.0,376.0 728.5,399.5" fill="#fdfdfd" stroke="#fdfdfd"/>
<polygon points="752.0,376.0 752.0,423.0 728.5,399.5" fill="#fdfdfd" stroke="#fdfdfd"/>
<polygon points="752.0,423.0 705.0,423.0 728.5,399.5" fill="#fafafa" stroke="#fafafa"/>
<polygon points="705.0,423.0 705.0,376.0 728.5,399.5" fill="#f7f7f7" stroke="#f7f7f7"/>
<polygon points="752.0,376.0 799.0,376.0 799.0,423.0" fill="#fafafa" stroke="#fafafa"/>
<polygon points="752.0,376.0 799.0,423.0 752.0,423.0" fill="#f7f7f7" stroke="#f7f7f7"/>
<polygon points="799.0,376.0 846.0,376.0 799.0,423.0" fill="#fdfdfd" stroke="#fdfdfd"/>
<polygon points="846.0,376.0 846.0,423.0 799.0,423.0" fill="#fafafa" stroke="#fafafa"/>
<polygon points="846.0,376.0 893.0,376.0 869.5,399.5" fill="#fdfdfd" stroke="#fdfdfd"/>
<polygon points="893.0,376.0 893.0,423.0 869.5,399.5" fill="#fafafa" stroke="#fafafa"/>
<polygon points="893.0,423.0 846.0,423.0 869.5,399.5" fill="#f7f7f7" stroke="#f7f7f7"/>
<polygon points="846.0,423.0 846.0,376.0 869.5,399.5" fill="#fafafa" stroke="#fafafa"/>
<polygon points="893.0,376.0 940.0,376.0 916.5,399.5" fill="#fdfdfd" stroke="#fdfdfd"/>
<polygon points="940.0,376.0 940.0,423.0 916.5,399.5" fill="#fdfdfd" stroke="#fdfdfd"/>
<polygon points="940.0,423.0 893.0,423.0 916.5,399.5" fill="#f7f7f7" stroke="#f7f7f7"/>
<polygon points="893.0,423.0 893.0,376.0 916.5,399.5" fill="#fdfdfd" stroke="#fdfdfd"/>
<polygon points="940.0,376.0 987.0,376.0 987.0,423.0" fill="#fdfdfd" stroke="#fdfdfd"/>
<polygon points="940.0,376.0 987.0,423.0 940.0,423.0" fill="#fafafa" stroke="#fafafa"/>
<polygon points="987.0,376.0 1034.0,376.0 1010.5,399.5" fill="#f7f7f7" stroke="#f7f7f7"/>
<polygon points="1034.0,376.0 1034.0,423.0 1010.5,399.5" fill="#f7f7f7" stroke="#f7f7f7"/>
<polygon points="1034.0,423.0 987.0,423.0 1010.5,399.5" fill="#f7f7f7" stroke="#f7f7f7"/>
<polygon points="987.0,423.0 987.0,376.0 1010.5,399.5" fill="#fafafa" stroke="#fafafa"/>
<polygon points="0.0,423.0 47.0,423.0 23.5,446.5" fill="#fafafa" stroke="#fafafa"/>
<polygon points="47.0,423.0 47.0,470.0 23.5,446.5" fill="#fafafa" stroke="#fafafa"/>
<polygon points="47.0,470.0 0.0,470.0 23.5,446.5" fill="#fdfdfd" stroke="#fdfdfd"/>
<polygon points="0.0,470.0 0.0,423.0 23.5,446.5" fill="#fdfdfd" stroke="#fdfdfd"/>
<polygon points="47.0,423.0 94.0,423.0 47.0,470.0" fill="#fdfdfd" stroke="#fdfdfd"/>
<polygon points="94.0,423.0 94.0,470.0 47.0,470.0" fill="#fafafa" stroke="#fafafa"/>
<polygon points="94.0,423.0 141.0,423.0 117.5,446.5" fill="#fafafa" stroke="#fafafa"/>
<polygon points="141.0,423.0 141.0,470.0 117.5,446.5" fill="#f7f7f7" stroke="#f7f7f7"/>
<polygon points="141.0,470.0 94.0,470.0 117.5,446.5" fill="#f7f7f7" stroke="#f7f7f7"/>
<polygon points="94.0,470.0 94.0,423.0 117.5,446.5" fill="#fafafa" stroke="#fafafa"/>
<polygon points="141.0,423.0 188.0,423.0 164.5,446.5" fill="#f7f7f7" stroke="#f7f7f7"/>
<polygon points="188.0,423.0 188.0,470.0 164.5,446.5" fill="#fdfdfd" stroke="#fdfdfd"/>
<polygon points="188.0,470.0 141.0,470.0 164.5,446.5" fill="#fdfdfd" stroke="#fdfdfd"/>
<polygon points="141.0,470.0 141.0,423.0 164.5,446.5" fill="#f7f7f7" stroke="#f7f7f7"/>
<polygon points="188.0,423.0 235.0,423.0 211.5,446.5" fill="#fdfdfd" stroke="#fdfdfd"/>
<polygon points="235.0,423.0 235.0,470.0 211.5,446.5" fill="#f7f7f7" stroke="#f7f7f7"/>
<polygon points="235.0,470.0 188.0,470.0 211.5,446.5" fill="#f7f7f7" stroke="#f7f7f7"/>
<polygon points="188.0,470.0 188.0,423.0 211.5,446.5" fill="#fdfdfd" stroke="#fdfdfd"/>
<polygon points="235.0,423.0 282.0,423.0 258.5,446.5" fill="#fdfdfd" stroke="#fdfdfd"/>
<polygon points="282.0,423.0 282.0,470.0 258.5,446.5" fill="#fdfdfd" stroke="#fdfdfd"/>
<polygon points="282.0,470.0 235.0,470.0 258.5,446.5" fill="#fdfdfd" stroke="#fdfdfd"/>
<polygon points="235.0,470.0 235.0,423.0 258.5,446.5" fill="#f7f7f7" stroke="#f7f7f7"/>
<polygon points="282.0,423.0 329.0,423.0 305.5,446.5" fill="#fdfdfd" stroke="#fdfdfd"/>
<polygon points="329.0,423.0 329.0,470.0 305.5,446.5" fill="#fdfdfd" stroke="#fdfdfd"/>
<polygon points="329.0,470.0 282.0,470.0 305.5,446.5" fill="#fdfdfd" stroke="#fdfdfd"/>
<polygon points="282.0,470.0 282.0,423.0 305.5,446.5" fill="#fafafa" stroke="#fafafa"/>
<polygon points="329.0,423.0 376.0,423.0 329.0,470.0" fill="#fafafa" stroke="#fafafa"/>
<polygon points="376.0,423.0 376.0,470.0 329.0,470.0" fill="#f7f7f7" stroke="#f7f7f7"/>
<polygon points="376.0,423.0 423.0,423.0 399.5,446.5" fill="#fdfdfd" stroke="#fdfdfd"/>
<polygon points="423.0,423.0 423.0,470.0 399.5,446.5" fill="#f7f7f7" stroke="#f7f7f7"/>
<polygon points="423.0,470.0 376.0,470.0 399.5,446.5" fill="#fdfdfd" stroke="#fdfdfd"/>
<polygon points="376.0,470.0 376.0,423.0 399.5,446.5" fill="#fdfdfd" stroke="#fdfdfd"/>
<polygon points="423.0,423.0 470.0,423.0 446.5,446.5" fill="#fdfdfd" stroke="#fdfdfd"/>
<polygon points="470.0,423.0 470.0,470.0 446.5,446.5" fill="#fafafa" stroke="#fafafa"/>
<polygon points="470.0,470.0 423.0,470.0 446.5,446.5" fill="#fdfdfd" stroke="#fdfdfd"/>
<polygon points="423.0,470.0 423.0,423.0 446.5,446.5" fill="#fdfdfd" stroke="#fdfdfd"/>
<polygon points="470.0,423.0 517.0,423.0 517.0,470.0" fill="#f7f7f7" stroke="#f7f7f7"/>
<polygon points="470.0,423.0 517.0,470.0 470.0,470.0" fill="#fdfdfd" stroke="#fdfdfd"/>
<polygon points="517.0,423.0 564.0,423.0 517.0,470.0" fill="#fafafa" stroke="#fafafa"/>
<polygon points="564.0,423.0 564.0,470.0 517.0,470.0" fill="#fdfdfd" stroke="#fdfdfd"/>
<polygon points="564.0,423.0 611.0,423.0 587.5,446.5" fill="#fafafa" stroke="#fafafa"/>
<polygon points="611.0,423.0 611.0,470.0 587.5,446.5" fill="#fdfdfd" stroke="#fdfdfd"/>
<polygon points="611.0,470.0 564.0,470.0 587.5,446.5" fill="#fdfdfd" stroke="#fdfdfd"/>
<polygon points="564.0,470.0 564.0,423.0 587.5,446.5" fill="#f7f7f7" stroke="#f7f7f7"/>
<polygon points="611.0,423.0 658.0,423.0 658.0,470.0" fill="#f7f7f7" stroke="#f7f7f7"/>
<polygon points="611.0,423.0 658.0,470.0 611.0,470.0" fill="#fafafa" stroke="#fafafa"/>
<polygon points="658.0,423.0 705.0,423.0 681.5,446.5" fill="#fdfdfd" stroke="#fdfdfd"/>
<polygon points="705.0,423.0 705.0,470.0 681.5,446.5" fill="#fdfdfd" stroke="#fdfdfd"/>
<polygon points="705.0,470.0 658.0,470.0 681.5,446.5" fill="#f7f7f7" stroke="#f7f7f7"/>
<polygon points="658.0,470.0 658.0,423.0 681.5,446.5" fill="#fdfdfd" stroke="#fdfdfd"/>
<polygon points="705.0,423.0 752.0,423.0 728.5,446.5" fill="#fdfdfd" stroke="#fdfdfd"/>
<polygon points="752.0,423.0 752.0,470.0 728.5,446.5" fill="#fdfdfd" stroke="#fdfdfd"/>
<polygon points="752.0,470.0 705.0,470.0 728.5,446.5" fill="#fdfdfd" stroke="#fdfdfd"/>
<polygon points="705.0,470.0 705.0,423.0 728.5,446.5" fill="#f7f7f7" stroke="#f7f7f7"/>
<polygon points="752.0,423.0 799.0,423.0 775.5,446.5" fill="#fdfdfd" stroke="#fdfdfd"/>
<polygon points="799.0,423.0 799.0,470.0 775.5,446.5" fill="#f7f7f7" stroke="#f7f7f7"/>
<polygon points="799.0,470.0 752.0,470.0 775.5,446.5" fill="#f7f7f7" stroke="#f7f7f7"/>
<polygon points="752.0,470.0 752.0,423.0 775.5,446.5" fill="#f7f7f7" stroke="#f7f7f7"/>
<polygon points="799.0,423.0 846.0,423.0 822.5,446.5" fill="#fdfdfd" stroke="#fdfdfd"/>
<polygon points="846.0,423.0 846.0,470.0 822.5,446.5" fill="#f7f7f7" stroke="#f7f7f7"/>
<polygon points="846.0,470.0 799.0,470.0 822.5,446.5" fill="#fdfdfd" stroke="#fdfdfd"/>
<polygon points="799.0,470.0 799.0,423.0 822.5,446.5" fill="#fafafa" stroke="#fafafa"/>
<polygon points="846.0,423.0 893.0,423.0 869.5,446.5" fill="#fdfdfd" stroke="#fdfdfd"/>
<polygon points="893.0,423.0 893.0,470.0 869.5,446.5" fill="#fdfdfd" stroke="#fdfdfd"/>
<polygon points="893.0,470.0 846.0,470.0 869.5,446.5" fill="#fafafa" stroke="#fafafa"/>
<polygon points="846.0,470.0 846.0,423.0 869.5,446.5" fill="#fafafa" stroke="#fafafa"/>
<polygon points="893.0,423.0 940.0,423.0 940.0,470.0" fill="#fafafa" stroke="#fafafa"/>
<polygon points="893.0,423.0 940.0,470.0 893.0,470.0" fill="#fdfdfd" stroke="#fdfdfd"/>
<polygon points="940.0,423.0 987.0,423.0 940.0,470.0" fill="#fdfdfd" stroke="#fdfdfd"/>
<polygon points="987.0,423.0 987.0,470.0 940.0,470.0" fill="#fafafa" stroke="#fafafa"/>
<polygon points="987.0,423.0 1034.0,423.0 987.0,470.0" fill="#fdfdfd" stroke="#fdfdfd"/>
<polygon points="1034.0,423.0 1034.0,470.0 987.0,470.0" fill="#f7f7f7" stroke="#f7f7f7"/>
<polygon points="0.0,470.0 47.0,470.0 47.0,517.0" fill="#fdfdfd" stroke="#fdfdfd"/>
<polygon points="0.0,470.0 47.0,517.0 0.0,517.0" fill="#fdfdfd" stroke="#fdfdfd"/>
<polygon points="47.0,470.0 94.0,470.0 70.5,493.5" fill="#f7f7f7" stroke="#f7f7f7"/>
<polygon points="94.0,470.0 94.0,517.0 70.5,493.5" fill="#fdfdfd" stroke="#fdfdfd"/>
<polygon points="94.0,517.0 47.0,517.0 70.5,493.5" fill="#f7f7f7" stroke="#f7f7f7"/>
<polygon points="47.0,517.0 47.0,470.0 70.5,493.5" fill="#fdfdfd" stroke="#fdfdfd"/>
<polygon points="94.0,470.0 141.0,470.0 117.5,493.5" fill="#f7f7f7" stroke="#f7f7f7"/>
<polygon points="141.0,470.0 141.0,517.0 117.5,493.5" fill="#fafafa" stroke="#fafafa"/>
<polygon points="141.0,517.0 94.0,517.0 117.5,493.5" fill="#f7f7f7" stroke="#f7f7f7"/>
<polygon points="94.0,517.0 94.0,470.0 117.5,493.5" fill="#fafafa" stroke="#fafafa"/>
<polygon points="141.0,470.0 188.0,470.0 141.0,517.0" fill="#fdfdfd" stroke="#fdfdfd"/>
<polygon points="188.0,470.0 188.0,517.0 141.0,517.0" fill="#fafafa" stroke="#fafafa"/>
<polygon points="188.0,470.0 235.0,470.0 211.5,493.5" fill="#fdfdfd" stroke="#fdfdfd"/>
<polygon points="235.0,470.0 235.0,517.0 211.5,493.5" fill="#fafafa" stroke="#fafafa"/>
<polygon points="235.0,517.0 188.0,517.0 211.5,493.5" fill="#fdfdfd" stroke="#fdfdfd"/>
<polygon points="188.0,517.0 188.0,470.0 211.5,493.5" fill="#fafafa" stroke="#fafafa"/>
<polygon points="235.0,470.0 282.0,470.0 258.5,493.5" fill="#fdfdfd" stroke="#fdfdfd"/>
<polygon points="282.0,470.0 282.0,517.0 258.5,493.5" fill="#fdfdfd" stroke="#fdfdfd"/>
<polygon points="282.0,517.0 235.0,517.0 258.5,493.5" fill="#fafafa" stroke="#fafafa"/>
<polygon points="235.0,517.0 235.0,470.0 258.5,493.5" fill="#f7f7f7" stroke="#f7f7f7"/>
<polygon points="282.0,470.0 329.0,470.0 282.0,517.0" fill="#f7f7f7" stroke="#f7f7f7"/>
<polygon points="329.0,470.0 329.0,517.0 282.0,517.0" fill="#fdfdfd" stroke="#fdfdfd"/>
<polygon points="329.0,470.0 376.0,470.0 376.0,517.0" fill="#fdfdfd" stroke="#fdfdfd"/>
<polygon points="329.0,470.0 376.0,517.0 329.0,517.0" fill="#fafafa" stroke="#fafafa"/>
<polygon points="376.0,470.0 423.0,470.0 423.0,517.0" fill="#fafafa" stroke="#fafafa"/>
<polygon points="376.0,470.0 423.0,517.0 376.0,517.0" fill="#fdfdfd" stroke="#fdfdfd"/>
<polygon points="423.0,470.0 470.0,470.0 470.0,517.0" fill="#fdfdfd" stroke="#fdfdfd"/>
<polygon points="423.0,470.0 470.0,517.0 423.0,517.0" fill="#fafafa" stroke="#fafafa"/>
<polygon points="470.0,470.0 517.0,470.0 470.0,517.0" fill="#fafafa" stroke="#fafafa"/>
<polygon points="517.0,470.0 517.0,517.0 470.0,517.0" fill="#fdfdfd" stroke="#fdfdfd"/>
<polygon points="517.0,470.0 564.0,470.0 564.0,517.0" fill="#fdfdfd" stroke="#fdfdfd"/>
<polygon points="517.0,470.0 564.0,517.0 517.0,517.0" fill="#f7f7f7" stroke="#f7f7f7"/>
<polygon points="564.0,470.0 611.0,470.0 611.0,517.0" fill="#f7f7f7" stroke="#f7f7f7"/>
<polygon points="564.0,470.0 611.0,517.0 564.0,517.0" fill="#fdfdfd" stroke="#fdfdfd"/>
<polygon points="611.0,470.0 658.0,470.0 658.0,517.0" fill="#fdfdfd" stroke="#fdfdfd"/>
<polygon points="611.0,470.0 658.0,517.0 611.0,517.0" fill="#fafafa" stroke="#fafafa"/>
<polygon points="658.0,470.0 705.0,470.0 705.0,517.0" fill="#f7f7f7" stroke="#f7f7f7"/>
<polygon points="658.0,470.0 705.0,517.0 658.0,517.0" fill="#fafafa" stroke="#fafafa"/>
<polygon points="705.0,470.0 752.0,470.0 728.5,493.5" fill="#fdfdfd" stroke="#fdfdfd"/>
<polygon points="752.0,470.0 752.0,517.0 728.5,493.5" fill="#fafafa" stroke="#fafafa"/>
<polygon points="752.0,517.0 705.0,517.0 728.5,493.5" fill="#fdfdfd" stroke="#fdfdfd"/>
<polygon points="705.0,517.0 705.0,470.0 728.5,493.5" fill="#fdfdfd" stroke="#fdfdfd"/>
<polygon points="752.0,470.0 799.0,470.0 752.0,517.0" fill="#fafafa" stroke="#fafafa"/>
<polygon points="799.0,470.0 799.0,517.0 752.0,517.0" fill="#fdfdfd" stroke="#fdfdfd"/>
<polygon points="799.0,470.0 846.0,470.0 822.5,493.5" fill="#fdfdfd" stroke="#fdfdfd"/>
<polygon points="846.0,470.0 846.0,517.0 822.5,493.5" fill="#fafafa" stroke="#fafafa"/>
<polygon points="846.0,517.0 799.0,517.0 822.5,493.5" fill="#fdfdfd" stroke="#fdfdfd"/>
<polygon points="799.0,517.0 799.0,470.0 822.5,493.5" fill="#fdfdfd" stroke="#fdfdfd"/>
<polygon points="846.0,470.0 893.0,470.0 869.5,493.5" fill="#fdfdfd" stroke="#fdfdfd"/>
<polygon points="893.0,470.0 893.0,517.0 869.5,493.5" fill="#fdfdfd" stroke="#fdfdfd"/>
<polygon points="893.0,517.0 846.0,517.0 869.5,493.5" fill="#fafafa" stroke="#fafafa"/>
<polygon points="846.0,517.0 846.0,470.0 869.5,493.5" fill="#f7f7f7" stroke="#f7f7f7"/>
<polygon points="893.0,470.0 940.0,470.0 893.0,517.0" fill="#f7f7f7" stroke="#f7f7f7"/>
<polygon points="940.0,470.0 940.0,517.0 893.0,517.0" fill="#f7f7f7" stroke="#f7f7f7"/>
<polygon points="940.0,470.0 987.0,470.0 987.0,517.0" fill="#fafafa" stroke="#fafafa"/>
<polygon points="940.0,470.0 987.0,517.0 940.0,517.0" fill="#fdfdfd" stroke="#fdfdfd"/>
<polygon points="987.0,470.0 1034.0,470.0 1034.0,517.0" fill="#fdfdfd" stroke="#fdfdfd"/>
<polygon points="987.0,470.0 1034.0,517.0 987.0,517.0" fill="#f7f7f7" stroke="#f7f7f7"/>
<polygon points="0.0,517.0 47.0,517.0 23.5,540.5" fill="#fdfdfd" stroke="#fdfdfd"/>
<polygon points="47.0,517.0 47.0,564.0 23.5,540.5" fill="#f7f7f7" stroke="#f7f7f7"/>
<polygon points="47.0,564.0 0.0,564.0 23.5,540.5" fill="#fafafa" stroke="#fafafa"/>
<polygon points="0.0,564.0 0.0,517.0 23.5,540.5" fill="#fdfdfd" stroke="#fdfdfd"/>
<polygon points="47.0,517.0 94.0,517.0 70.5,540.5" fill="#fdfdfd" stroke="#fdfdfd"/>
<polygon points="94.0,517.0 94.0,564.0 70.5,540.5" fill="#fdfdfd" stroke="#fdfdfd"/>
<polygon points="94.0,564.0 47.0,564.0 70.5,540.5" fill="#f7f7f7" stroke="#f7f7f7"/>
<polygon points="47.0,564.0 47.0,517.0 70.5,540.5" fill="#fdfdfd" stroke="#fdfdfd"/>
<polygon points="94.0,517.0 141.0,517.0 117.5,540.5" fill="#fdfdfd" stroke="#fdfdfd"/>
<polygon points="141.0,517.0 141.0,564.0 117.5,540.5" fill="#fafafa" stroke="#fafafa"/>
<polygon points="141.0,564.0 94.0,564.0 117.5,540.5" fill="#fdfdfd" stroke="#fdfdfd"/>
<polygon points="94.0,564.0 94.0,517.0 117.5,540.5" fill="#fafafa" stroke="#fafafa"/>
<polygon points="141.0,517.0 188.0,517.0 188.0,564.0" fill="#fdfdfd" stroke="#fdfdfd"/>
<polygon points="141.0,517.0 188.0,564.0 141.0,564.0" fill="#f7f7f7" stroke="#f7f7f7"/>
<polygon points="188.0,517.0 235.0,517.0 235.0,564.0" fill="#fdfdfd" stroke="#fdfdfd"/>
<polygon points="188.0,517.0 235.0,564.0 188.0,564.0" fill="#fafafa" stroke="#fafafa"/>
<polygon points="235.0,517.0 282.0,517.0 282.0,564.0" fill="#fdfdfd" stroke="#fdfdfd"/>
<polygon points="235.0,517.0 282.0,564.0 235.0,564.0" fill="#fdfdfd" stroke="#fdfdfd"/>
<polygon points="282.0,517.0 329.0,517.0 305.5,540.5" fill="#f7f7f7" stroke="#f7f7f7"/>
<polygon points="329.0,517.0 329.0,564.0 305.5,540.5" fill="#f7f7f7" stroke="#f7f7f7"/>
<polygon points="329.0,564.0 282.0,564.0 305.5,540.5" fill="#fdfdfd" stroke="#fdfdfd"/>
<polygon points="282.0,564.0 282.0,517.0 305.5,540.5" fill="#fdfdfd" stroke="#fdfdfd"/>
<polygon points="329.0,517.0 376.0,517.0 329.0,564.0" fill="#fdfdfd" stroke="#fdfdfd"/>
<polygon points="376.0,517.0 376.0,564.0 329.0,564.0" fill="#fdfdfd" stroke="#fdfdfd"/>
<polygon points="376.0,517.0 423.0,517.0 399.5,540.5" fill="#fafafa" stroke="#fafafa"/>
<polygon points="423.0,517.0 423.0,564.0 399.5,540.5" fill="#fdfdfd" stroke="#fdfdfd"/>
<polygon points="423.0,564.0 376.0,564.0 399.5,540.5" fill="#f7f7f7" stroke="#f7f7f7"/>
<polygon points="376.0,564.0 376.0,517.0 399.5,540.5" fill="#fafafa" stroke="#fafafa"/>
<polygon points="423.0,517.0 470.0,517.0 470.0,564.0" fill="#fdfdfd" stroke="#fdfdfd"/>
<polygon points="423.0,517.0 470.0,564.0 423.0,564.0" fill="#fdfdfd" stroke="#fdfdfd"/>
<polygon points="470.0,517.0 517.0,517.0 470.0,564.0" fill="#fdfdfd" stroke="#fdfdfd"/>
<polygon points="517.0,517.0 517.0,564.0 470.0,564.0" fill="#f7f7f7" stroke="#f7f7f7"/>
<polygon points="517.0,517.0 564.0,517.0 517.0,564.0" fill="#fdfdfd" stroke="#fdfdfd"/>
<polygon points="564.0,517.0 564.0,564.0 517.0,564.0" fill="#fdfdfd" stroke="#fdfdfd"/>
<polygon points="564.0,517.0 611.0,517.0 611.0,564.0" fill="#fafafa" stroke="#fafafa"/>
<polygon points="564.0,517.0 611.0,564.0 564.0,564.0" fill="#fafafa" stroke="#fafafa"/>
<polygon points="611.0,517.0 658.0,517.0 634.5,540.5" fill="#fafafa" stroke="#fafafa"/>
<polygon points="658.0,517.0 658.0,564.0 634.5,540.5" fill="#f7f7f7" stroke="#f7f7f7"/>
<polygon points="658.0,564.0 611.0,564.0 634.5,540.5" fill="#f7f7f7" stroke="#f7f7f7"/>
<polygon points="611.0,564.0 611.0,517.0 634.5,540.5" fill="#fafafa" stroke="#fafafa"/>
<polygon points="658.0,517.0 705.0,517.0 681.5,540.5" fill="#fdfdfd" stroke="#fdfdfd"/>
<polygon points="705.0,517.0 705.0,564.0 681.5,540.5" fill="#fdfdfd" stroke="#fdfdfd"/>
<polygon points="705.0,564.0 658.0,564.0 681.5,540.5" fill="#fdfdfd" stroke="#fdfdfd"/>
<polygon points="658.0,564.0 658.0,517.0 681.5,540.5" fill="#fdfdfd" stroke="#fdfdfd"/>
<polygon points="705.0,517.0 752.0,517.0 752.0,564.0" fill="#f7f7f7" stroke="#f7f7f7"/>
<polygon points="705.0,517.0 752.0,564.0 705.0,564.0" fill="#f7f7f7" stroke="#f7f7f7"/>
<polygon points="752.0,517.0 799.0,517.0 775.5,540.5" fill="#f7f7f7" stroke="#f7f7f7"/>
<polygon points="799.0,517.0 799.0,564.0 775.5,540.5" fill="#fdfdfd" stroke="#fdfdfd"/>
<polygon points="799.0,564.0 752.0,564.0 775.5,540.5" fill="#fdfdfd" stroke="#fdfdfd"/>
<polygon points="752.0,564.0 752.0,517.0 775.5,540.5" fill="#fdfdfd" stroke="#fdfdfd"/>
<polygon points="799.0,517.0 846.0,517.0 822.5,540.5" fill="#fdfdfd" stroke="#fdfdfd"/>
<polygon points="846.0,517.0 846.0,564.0 822.5,540.5" fill="#fdfdfd" stroke="#fdfdfd"/>
<polygon points="846.0,564.0 799.0,564.0 822.5,540.5" fill="#f7f7f7" stroke="#f7f7f7"/>
<polygon points="799.0,564.0 799.0,517.0 822.5,540.5" fill="#f7f7f7" stroke="#f7f7f7"/>
<polygon points="846.0,517.0 893.0,517.0 869.5,540.5" fill="#fdfdfd" stroke="#fdfdfd"/>
<polygon points="893.0,517.0 893.0,564.0 869.5,540.5" fill="#fdfdfd" stroke="#fdfdfd"/>
<polygon points="893.0,564.0 846.0,564.0 869.5,540.5" fill="#fdfdfd" stroke="#fdfdfd"/>
<polygon points="846.0,564.0 846.0,517.0 869.5,540.5" fill="#fdfdfd" stroke="#fdfdfd"/>
<polygon points="893.0,517.0 940.0,517.0 916.5,540.5" fill="#fafafa" stroke="#fafafa"/>
<polygon points="940.0,517.0 940.0,564.0 916.5,540.5" fill="#fdfdfd" stroke="#fdfdfd"/>
<polygon points="940.0,564.0 893.0,564.0 916.5,540.5" fill="#fdfdfd" stroke="#fdfdfd"/>
<polygon points="893.0,564.0 893.0,517.0 916.5,540.5" fill="#fdfdfd" stroke="#fdfdfd"/>
<polygon points="940.0,517.0 987.0,517.0 963.5,540.5" fill="#fafafa" stroke="#fafafa"/>
<polygon points="987.0,517.0 987.0,564.0 963.5,540.5" fill="#fdfdfd" stroke="#fdfdfd"/>
<polygon points="987.0,564.0 940.0,564.0 963.5,540.5" fill="#fafafa" stroke="#fafafa"/>
<polygon points="940.0,564.0 940.0,517.0 963.5,540.5" fill="#fdfdfd" stroke="#fdfdfd"/>
<polygon points="987.0,517.0 1034.0,517.0 987.0,564.0" fill="#fdfdfd" stroke="#fdfdfd"/>
<polygon points="1034.0,517.0 1034.0,564.0 987.0,564.0" fill="#fafafa" stroke="#fafafa"/>
<polygon points="0.0,564.0 47.0,564.0 23.5,587.5" fill="#fafafa" stroke="#fafafa"/>
<polygon points="47.0,564.0 47.0,611.0 23.5,587.5" fill="#fafafa" stroke="#fafafa"/>
<polygon points="47.0,611.0 0.0,611.0 23.5,587.5" fill="#fafafa" stroke="#fafafa"/>
<polygon points="0.0,611.0 0.0,564.0 23.5,587.5" fill="#fdfdfd" stroke="#fdfdfd"/>
<polygon points="47.0,564.0 94.0,564.0 70.5,587.5" fill="#fafafa" stroke="#fafafa"/>
<polygon points="94.0,564.0 94.0,611.0 70.5,587.5" fill="#f7f7f7" stroke="#f7f7f7"/>
<polygon points="94.0,611.0 47.0,611.0 70.5,587.5" fill="#fdfdfd" stroke="#fdfdfd"/>
<polygon points="47.0,611.0 47.0,564.0 70.5,587.5" fill="#fafafa" stroke="#fafafa"/>
<polygon points="94.0,564.0 141.0,564.0 117.5,587.5" fill="#f7f7f7" stroke="#f7f7f7"/>
<polygon points="141.0,564.0 141.0,611.0 117.5,587.5" fill="#fafafa" stroke="#fafafa"/>
<polygon points="141.0,611.0 94.0,611.0 117.5,587.5" fill="#fdfdfd" stroke="#fdfdfd"/>
<polygon points="94.0,611.0 94.0,564.0 117.5,587.5" fill="#f7f7f7" stroke="#f7f7f7"/>
<polygon points="141.0,564.0 188.0,564.0 188.0,611.0" fill="#f7f7f7" stroke="#f7f7f7"/>
<polygon points="141.0,564.0 188.0,611.0 141.0,611.0" fill="#fdfdfd" stroke="#fdfdfd"/>
<polygon points="188.0,564.0 235.0,564.0 211.5,587.5" fill="#fafafa" stroke="#fafafa"/>
<polygon points="235.0,564.0 235.0,611.0 211.5,587.5" fill="#fdfdfd" stroke="#fdfdfd"/>
<polygon points="235.0,611.0 188.0,611.0 211.5,587.5" fill="#fafafa" stroke="#fafafa"/>
<polygon points="188.0,611.0 188.0,564.0 211.5,587.5" fill="#fafafa" stroke="#fafafa"/>
<polygon points="235.0,564.0 282.0,564.0 258.5,587.5" fill="#fafafa" stroke="#fafafa"/>
<polygon points="282.0,564.0 282.0,611.0 258.5,587.5" fill="#f7f7f7" stroke="#f7f7f7"/>
<polygon points="282.0,611.0 235.0,611.0 258.5,587.5" fill="#fdfdfd" stroke="#fdfdfd"/>
<polygon points="235.0,611.0 235.0,564.0 258.5,587.5" fill="#fafafa" stroke="#fafafa"/>
<polygon points="282.0,564.0 329.0,564.0 329.0,611.0" fill="#fdfdfd" stroke="#fdfdfd"/>
<polygon points="282.0,564.0 329.0,611.0 282.0,611.0" fill="#fafafa" stroke="#fafafa"/>
<polygon points="329.0,564.0 376.0,564.0 376.0,611.0" fill="#fdfdfd" stroke="#fdfdfd"/>
<polygon points="329.0,564.0 376.0,611.0 329.0,611.0" fill="#fafafa" stroke="#fafafa"/>
<polygon points="376.0,564.0 423.0,564.0 423.0,611.0" fill="#f7f7f7" stroke="#f7f7f7"/>
<polygon points="376.0,564.0 423.0,611.0 376.0,611.0" fill="#f7f7f7" stroke="#f7f7f7"/>
<polygon points="423.0,564.0 470.0,564.0 423.0,611.0" fill="#f7f7f7" stroke="#f7f7f7"/>
<polygon points="470.0,564.0 470.0,611.0 423.0,611.0" fill="#fafafa" stroke="#fafafa"/>
<polygon points="470.0,564.0 517.0,564.0 493.5,587.5" fill="#fdfdfd" stroke="#fdfdfd"/>
<polygon points="517.0,564.0 517.0,611.0 493.5,587.5" fill="#fafafa" stroke="#fafafa"/>
<polygon points="517.0,611.0 470.0,611.0 493.5,587.5" fill="#fafafa" stroke="#fafafa"/>
<polygon points="470.0,611.0 470.0,564.0 493.5,587.5" fill="#fdfdfd" stroke="#fdfdfd"/>
<polygon points="517.0,564.0 564.0,564.0 540.5,587.5" fill="#fafafa" stroke="#fafafa"/>
<polygon points="564.0,564.0 564.0,611.0 540.5,587.5" fill="#fdfdfd" stroke="#fdfdfd"/>
<polygon points="564.0,611.0 517.0,611.0 540.5,587.5" fill="#fafafa" stroke="#fafafa"/>
<polygon points="517.0,611.0 517.0,564.0 540.5,587.5" fill="#fafafa" stroke="#fafafa"/>
<polygon points="564.0,564.0 611.0,564.0 587.5,587.5" fill="#fdfdfd" stroke="#fdfdfd"/>
<polygon points="611.0,564.0 611.0,611.0 587.5,587.5" fill="#fafafa" stroke="#fafafa"/>
<polygon points="611.0,611.0 564.0,611.0 587.5,587.5" fill="#fdfdfd" stroke="#fdfdfd"/>
<polygon points="564.0,611.0 564.0,564.0 587.5,587.5" fill="#fafafa" stroke="#fafafa"/>
<polygon points="611.0,564.0 658.0,564.0 634.5,587.5" fill="#fdfdfd" stroke="#fdfdfd"/>
<polygon points="658.0,564.0 658.0,611.0 634.5,587.5" fill="#fdfdfd" stroke="#fdfdfd"/>
<polygon points="658.0,611.0 611.0,611.0 634.5,587.5" fill="#fdfdfd" stroke="#fdfdfd"/>
<polygon points="611.0,611.0 611.0,564.0 634.5,587.5" fill="#fafafa" stroke="#fafafa"/>
<polygon points="658.0,564.0 705.0,564.0 681.5,587.5" fill="#fdfdfd" stroke="#fdfdfd"/>
<polygon points="705.0,564.0 705.0,611.0 681.5,587.5" fill="#fdfdfd" stroke="#fdfdfd"/>
<polygon points="705.0,611.0 658.0,611.0 681.5,587.5" fill="#fdfdfd" stroke="#fdfdfd"/>
<polygon points="658.0,611.0 658.0,564.0 681.5,587.5" fill="#fafafa" stroke="#fafafa"/>
<polygon points="705.0,564.0 752.0,564.0 728.5,587.5" fill="#fdfdfd" stroke="#fdfdfd"/>
<polygon points="752.0,564.0 752.0,611.0 728.5,587.5" fill="#fafafa" stroke="#fafafa"/>
<polygon points="752.0,611.0 705.0,611.0 728.5,587.5" fill="#f7f7f7" stroke="#f7f7f7"/>
<polygon points="705.0,611.0 705.0,564.0 728.5,587.5" fill="#f7f7f7" stroke="#f7f7f7"/>
<polygon points="752.0,564.0 799.0,564.0 799.0,611.0" fill="#fdfdfd" stroke="#fdfdfd"/>
<polygon points="752.0,564.0 799.0,611.0 752.0,611.0" fill="#fdfdfd" stroke="#fdfdfd"/>
<polygon points="799.0,564.0 846.0,564.0 822.5,587.5" fill="#f7f7f7" stroke="#f7f7f7"/>
<polygon points="846.0,564.0 846.0,611.0 822.5,587.5" fill="#fdfdfd" stroke="#fdfdfd"/>
<polygon points="846.0,611.0 799.0,611.0 822.5,587.5" fill="#f7f7f7" stroke="#f7f7f7"/>
<polygon points="799.0,611.0 799.0,564.0 822.5,587.5" fill="#fdfdfd" stroke="#fdfdfd"/>
<polygon points="846.0,564.0 893.0,564.0 869.5,587.5" fill="#fdfdfd" stroke="#fdfdfd"/>
<polygon points="893.0,564.0 893.0,611.0 869.5,587.5" fill="#f7f7f7" stroke="#f7f7f7"/>
<polygon points="893.0,611.0 846.0,611.0 869.5,587.5" fill="#fdfdfd" stroke="#fdfdfd"/>
<polygon points="846.0,611.0 846.0,564.0 869.5,587.5" fill="#fafafa" stroke="#fafafa"/>
<polygon points="893.0,564.0 940.0,564.0 940.0,611.0" fill="#fdfdfd" stroke="#fdfdfd"/>
<polygon points="893.0,564.0 940.0,611.0 893.0,611.0" fill="#f7f7f7" stroke="#f7f7f7"/>
<polygon points="940.0,564.0 987.0,564.0 940.0,611.0" fill="#f7f7f7" stroke="#f7f7f7"/>
<polygon points="987.0,564.0 987.0,611.0 940.0,611.0" fill="#fdfdfd" stroke="#fdfdfd"/>
<polygon points="987.0,564.0 1034.0,564.0 987.0,611.0" fill="#fdfdfd" stroke="#fdfdfd"/>
<polygon points="1034.0,564.0 1034.0,611.0 987.0,611.0" fill="#fdfdfd" stroke="#fdfdfd"/>
<polygon points="0.0,611.0 47.0,611.0 47.0,658.0" fill="#fafafa" stroke="#fafafa"/>
<polygon points="0.0,611.0 47.0,658.0 0.0,658.0" fill="#fdfdfd" stroke="#fdfdfd"/>
<polygon points="47.0,611.0 94.0,611.0 94.0,658.0" fill="#fafafa" stroke="#fafafa"/>
<polygon points="47.0,611.0 94.0,658.0 47.0,658.0" fill="#fdfdfd" stroke="#fdfdfd"/>
<polygon points="94.0,611.0 141.0,611.0 94.0,658.0" fill="#fafafa" stroke="#fafafa"/>
<polygon points="141.0,611.0 141.0,658.0 94.0,658.0" fill="#fafafa" stroke="#fafafa"/>
<polygon points="141.0,611.0 188.0,611.0 164.5,634.5" fill="#f7f7f7" stroke="#f7f7f7"/>
<polygon points="188.0,611.0 188.0,658.0 164.5,634.5" fill="#fdfdfd" stroke="#fdfdfd"/>
<polygon points="188.0,658.0 141.0,658.0 164.5,634.5" fill="#fafafa" stroke="#fafafa"/>
<polygon points="141.0,658.0 141.0,611.0 164.5,634.5" fill="#fafafa" stroke="#fafafa"/>
<polygon points="188.0,611.0 235.0,611.0 211.5,634.5" fill="#fdfdfd" stroke="#fdfdfd"/>
<polygon points="235.0,611.0 235.0,658.0 211.5,634.5" fill="#fdfdfd" stroke="#fdfdfd"/>
<polygon points="235.0,658.0 188.0,658.0 211.5,634.5" fill="#fafafa" stroke="#fafafa"/>
<polygon points="188.0,658.0 188.0,611.0 211.5,634.5" fill="#fdfdfd" stroke="#fdfdfd"/>
<polygon points="235.0,611.0 282.0,611.0 235.0,658.0" fill="#f7f7f7" stroke="#f7f7f7"/>
<polygon points="282.0,611.0 282.0,658.0 235.0,658.0" fill="#f7f7f7" stroke="#f7f7f7"/>
<polygon points="282.0,611.0 329.0,611.0 329.0,658.0" fill="#fdfdfd" stroke="#fdfdfd"/>
<polygon points="282.0,611.0 329.0,658.0 282.0,658.0" fill="#fafafa" stroke="#fafafa"/>
<polygon points="329.0,611.0 376.0,611.0 329.0,658.0" fill="#fdfdfd" stroke="#fdfdfd"/>
<polygon points="376.0,611.0 376.0,658.0 329.0,658.0" fill="#fdfdfd" stroke="#fdfdfd"/>
<polygon points="376.0,611.0 423.0,611.0 376.0,658.0" fill="#fdfdfd" stroke="#fdfdfd"/>
<polygon points="423.0,611.0 423.0,658.0 376.0,658.0" fill="#fafafa" stroke="#fafafa"/>
<polygon points="423.0,611.0 470.0,611.0 446.5,634.5" fill="#fafafa" stroke="#fafafa"/>
<polygon points="470.0,611.0 470.0,658.0 446.5,634.5" fill="#fafafa" stroke="#fafafa"/>
<polygon points="470.0,658.0 423.0,658.0 446.5,634.5" fill="#fafafa" stroke="#fafafa"/>
<polygon points="423.0,658.0 423.0,611.0 446.5,634.5" fill="#fdfdfd" stroke="#fdfdfd"/>
<polygon points="470.0,611.0 517.0,611.0 493.5,634.5" fill="#fafafa" stroke="#fafafa"/>
<polygon points="517.0,611.0 517.0,658.0 493.5,634.5" fill="#f7f7f7" stroke="#f7f7f7"/>
<polygon points="517.0,658.0 470.0,658.0 493.5,634.5" fill="#fdfdfd" stroke="#fdfdfd"/>
<polygon points="470.0,658.0 470.0,611.0 493.5,634.5" fill="#fdfdfd" stroke="#fdfdfd"/>
<polygon points="517.0,611.0 564.0,611.0 540.5,634.5" fill="#fafafa" stroke="#fafafa"/>
<polygon points="564.0,611.0 564.0,658.0 540.5,634.5" fill="#fdfdfd" stroke="#fdfdfd"/>
<polygon points="564.0,658.0 517.0,658.0 540.5,634.5" fill="#fdfdfd" stroke="#fdfdfd"/>
<polygon points="517.0,658.0 517.0,611.0 540.5,634.5" fill="#f7f7f7" stroke="#f7f7f7"/>
<polygon points="564.0,611.0 611.0,611.0 611.0,658.0" fill="#fafafa" stroke="#fafafa"/>
<polygon points="564.0,611.0 611.0,658.0 564.0,658.0" fill="#fdfdfd" stroke="#fdfdfd"/>
<polygon points="611.0,611.0 658.0,611.0 634.5,634.5" fill="#fafafa" stroke="#fafafa"/>
<polygon points="658.0,611.0 658.0,658.0 634.5,634.5" fill="#fdfdfd" stroke="#fdfdfd"/>
<polygon points="658.0,658.0 611.0,658.0 634.5,634.5" fill="#fdfdfd" stroke="#fdfdfd"/>
<polygon points="611.0,658.0 611.0,611.0 634.5,634.5" fill="#fafafa" stroke="#fafafa"/>
<polygon points="658.0,611.0 705.0,611.0 681.5,634.5" fill="#f7f7f7" stroke="#f7f7f7"/>
<polygon points="705.0,611.0 705.0,658.0 681.5,634.5" fill="#fdfdfd" stroke="#fdfdfd"/>
<polygon points="705.0,658.0 658.0,658.0 681.5,634.5" fill="#f7f7f7" stroke="#f7f7f7"/>
<polygon points="658.0,658.0 658.0,611.0 681.5,634.5" fill="#fdfdfd" stroke="#fdfdfd"/>
<polygon points="705.0,611.0 752.0,611.0 752.0,658.0" fill="#fafafa" stroke="#fafafa"/>
<polygon points="705.0,611.0 752.0,658.0 705.0,658.0" fill="#fdfdfd" stroke="#fdfdfd"/>
<polygon points="752.0,611.0 799.0,611.0 775.5,634.5" fill="#fdfdfd" stroke="#fdfdfd"/>
<polygon points="799.0,611.0 799.0,658.0 775.5,634.5" fill="#f7f7f7" stroke="#f7f7f7"/>
<polygon points="799.0,658.0 752.0,658.0 775.5,634.5" fill="#fdfdfd" stroke="#fdfdfd"/>
<polygon points="752.0,658.0 752.0,611.0 775.5,634.5" fill="#fdfdfd" stroke="#fdfdfd"/>
<polygon points="799.0,611.0 846.0,611.0 822.5,634.5" fill="#fdfdfd" stroke="#fdfdfd"/>
<polygon points="846.0,611.0 846.0,658.0 822.5,634.5" fill="#fdfdfd" stroke="#fdfdfd"/>
<polygon points="846.0,658.0 799.0,658.0 822.5,634.5" fill="#fafafa" stroke="#fafafa"/>
<polygon points="799.0,658.0 799.0,611.0 822.5,634.5" fill="#fafafa" stroke="#fafafa"/>
<polygon points="846.0,611.0 893.0,611.0 893.0,658.0" fill="#fdfdfd" stroke="#fdfdfd"/>
<polygon points="846.0,611.0 893.0,658.0 846.0,658.0" fill="#fdfdfd" stroke="#fdfdfd"/>
<polygon points="893.0,611.0 940.0,611.0 916.5,634.5" fill="#fdfdfd" stroke="#fdfdfd"/>
<polygon points="940.0,611.0 940.0,658.0 916.5,634.5" fill="#fafafa" stroke="#fafafa"/>
<polygon points="940.0,658.0 893.0,658.0 916.5,634.5" fill="#fdfdfd" stroke="#fdfdfd"/>
<polygon points="893.0,658.0 893.0,611.0 916.5,634.5" fill="#fafafa" stroke="#fafafa"/>
<polygon points="940.0,611.0 987.0,611.0 940.0,658.0" fill="#fafafa" stroke="#fafafa"/>
<polygon points="987.0,611.0 987.0,658.0 940.0,658.0" fill="#fafafa" stroke="#fafafa"/>
<polygon points="987.0,611.0 1034.0,611.0 1010.5,634.5" fill="#fdfdfd" stroke="#fdfdfd"/>
<polygon points="1034.0,611.0 1034.0,658.0 1010.5,634.5" fill="#fdfdfd" stroke="#fdfdfd"/>
<polygon points="1034.0,658.0 987.0,658.0 1010.5,634.5" fill="#fafafa" stroke="#fafafa"/>
<polygon points="987.0,658.0 987.0,611.0 1010.5,634.5" fill="#fafafa" stroke="#fafafa"/>
<polygon points="0.0,658.0 47.0,658.0 23.5,681.5" fill="#f7f7f7" stroke="#f7f7f7"/>
<polygon points="47.0,658.0 47.0,705.0 23.5,681.5" fill="#fafafa" stroke="#fafafa"/>
<polygon points="47.0,705.0 0.0,705.0 23.5,681.5" fill="#fafafa" stroke="#fafafa"/>
<polygon points="0.0,705.0 0.0,658.0 23.5,681.5" fill="#fdfdfd" stroke="#fdfdfd"/>
<polygon points="47.0,658.0 94.0,658.0 70.5,681.5" fill="#f7f7f7" stroke="#f7f7f7"/>
<polygon points="94.0,658.0 94.0,705.0 70.5,681.5" fill="#fdfdfd" stroke="#fdfdfd"/>
<polygon points="94.0,705.0 47.0,705.0 70.5,681.5" fill="#fdfdfd" stroke="#fdfdfd"/>
<polygon points="47.0,705.0 47.0,658.0 70.5,681.5" fill="#f7f7f7" stroke="#f7f7f7"/>
<polygon points="94.0,658.0 141.0,658.0 117.5,681.5" fill="#fdfdfd" stroke="#fdfdfd"/>
<polygon points="141.0,658.0 141.0,705.0 117.5,681.5" fill="#fdfdfd" stroke="#fdfdfd"/>
<polygon points="141.0,705.0 94.0,705.0 117.5,681.5" fill="#fdfdfd" stroke="#fdfdfd"/>
<polygon points="94.0,705.0 94.0,658.0 117.5,681.5" fill="#f7f7f7" stroke="#f7f7f7"/>
<polygon points="141.0,658.0 188.0,658.0 164.5,681.5" fill="#fdfdfd" stroke="#fdfdfd"/>
<polygon points="188.0,658.0 188.0,705.0 164.5,681.5" fill="#fdfdfd" stroke="#fdfdfd"/>
<polygon points="188.0,705.0 141.0,705.0 164.5,681.5" fill="#fdfdfd" stroke="#fdfdfd"/>
<polygon points="141.0,705.0 141.0,658.0 164.5,681.5" fill="#fafafa" stroke="#fafafa"/>
<polygon points="188.0,658.0 235.0,658.0 188.0,705.0" fill="#fdfdfd" stroke="#fdfdfd"/>
<polygon points="235.0,658.0 235.0,705.0 188.0,705.0" fill="#fafafa" stroke="#fafafa"/>
<polygon points="235.0,658.0 282.0,658.0 258.5,681.5" fill="#fdfdfd" stroke="#fdfdfd"/>
<polygon points="282.0,658.0 282.0,705.0 258.5,681.5" fill="#fdfdfd" stroke="#fdfdfd"/>
<polygon points="282.0,705.0 235.0,705.0 258.5,681.5" fill="#fdfdfd" stroke="#fdfdfd"/>
<polygon points="235.0,705.0 235.0,658.0 258.5,681.5" fill="#fdfdfd" stroke="#fdfdfd"/>
<polygon points="282.0,658.0 329.0,658.0 329.0,705.0" fill="#f7f7f7" stroke="#f7f7f7"/>
<polygon points="282.0,658.0 329.0,705.0 282.0,705.0" fill="#fdfdfd" stroke="#fdfdfd"/>
<polygon points="329.0,658.0 376.0,658.0 376.0,705.0" fill="#fdfdfd" stroke="#fdfdfd"/>
<polygon points="329.0,658.0 376.0,705.0 329.0,705.0" fill="#fafafa" stroke="#fafafa"/>
<polygon points="376.0,658.0 423.0,658.0 376.0,705.0" fill="#fafafa" stroke="#fafafa"/>
<polygon points="423.0,658.0 423.0,705.0 376.0,705.0" fill="#fafafa" stroke="#fafafa"/>
<polygon points="423.0,658.0 470.0,658.0 446.5,681.5" fill="#fafafa" stroke="#fafafa"/>
<polygon points="470.0,658.0 470.0,705.0 446.5,681.5" fill="#fafafa" stroke="#fafafa"/>
<polygon points="470.0,705.0 423.0,705.0 446.5,681.5" fill="#f7f7f7" stroke="#f7f7f7"/>
<polygon points="423.0,705.0 423.0,658.0 446.5,681.5" fill="#fdfdfd" stroke="#fdfdfd"/>
<polygon points="470.0,658.0 517.0,658.0 493.5,681.5" fill="#fafafa" stroke="#fafafa"/>
<polygon points="517.0,658.0 517.0,705.0 493.5,681.5" fill="#f7f7f7" stroke="#f7f7f7"/>
<polygon points="517.0,705.0 470.0,705.0 493.5,681.5" fill="#fdfdfd" stroke="#fdfdfd"/>
<polygon points="470.0,705.0 470.0,658.0 493.5,681.5" fill="#fafafa" stroke="#fafafa"/>
<polygon points="517.0,658.0 564.0,658.0 564.0,705.0" fill="#fdfdfd" stroke="#fdfdfd"/>
<polygon points="517.0,658.0 564.0,705.0 517.0,705.0" fill="#fafafa" stroke="#fafafa"/>
<polygon points="564.0,658.0 611.0,658.0 587.5,681.5" fill="#fdfdfd" stroke="#fdfdfd"/>
<polygon points="611.0,658.0 611.0,705.0 587.5,681.5" fill="#fafafa" stroke="#fafafa"/>
<polygon points="611.0,705.0 564.0,705.0 587.5,681.5" fill="#fdfdfd" stroke="#fdfdfd"/>
<polygon points="564.0,705.0 564.0,658.0 587.5,681.5" fill="#fdfdfd" stroke="#fdfdfd"/>
<polygon points="611.0,658.0 658.0,658.0 634.5,681.5" fill="#fdfdfd" stroke="#fdfdfd"/>
<polygon points="658.0,658.0 658.0,705.0 634.5,681.5" fill="#fafafa" stroke="#fafafa"/>
<polygon points="658.0,705.0 611.0,705.0 634.5,681.5" fill="#fafafa" stroke="#fafafa"/>
<polygon points="611.0,705.0 611.0,658.0 634.5,681.5" fill="#f7f7f7" stroke="#f7f7f7"/>
<polygon points="658.0,658.0 705.0,658.0 681.5,681.5" fill="#fdfdfd" stroke="#fdfdfd"/>
<polygon points="705.0,658.0 705.0,705.0 681.5,681.5" fill="#fdfdfd" stroke="#fdfdfd"/>
<polygon points="705.0,705.0 658.0,705.0 681.5,681.5" fill="#fdfdfd" stroke="#fdfdfd"/>
<polygon points="658.0,705.0 658.0,658.0 681.5,681.5" fill="#fdfdfd" stroke="#fdfdfd"/>
<polygon points="705.0,658.0 752.0,658.0 705.0,705.0" fill="#fdfdfd" stroke="#fdfdfd"/>
<polygon points="752.0,658.0 752.0,705.0 705.0,705.0" fill="#fdfdfd" stroke="#fdfdfd"/>
<polygon points="752.0,658.0 799.0,658.0 775.5,681.5" fill="#fdfdfd" stroke="#fdfdfd"/>
<polygon points="799.0,658.0 799.0,705.0 775.5,681.5" fill="#fafafa" stroke="#fafafa"/>
<polygon points="799.0,705.0 752.0,705.0 775.5,681.5" fill="#fdfdfd" stroke="#fdfdfd"/>
<polygon points="752.0,705.0 752.0,658.0 775.5,681.5" fill="#f7f7f7" stroke="#f7f7f7"/>
<polygon points="799.0,658.0 846.0,658.0 846.0,705.0" fill="#fdfdfd" stroke="#fdfdfd"/>
<polygon points="799.0,658.0 846.0,705.0 799.0,705.0" fill="#fdfdfd" stroke="#fdfdfd"/>
<polygon points="846.0,658.0 893.0,658.0 846.0,705.0" fill="#fdfdfd" stroke="#fdfdfd"/>
<polygon points="893.0,658.0 893.0,705.0 846.0,705.0" fill="#fafafa" stroke="#fafafa"/>
<polygon points="893.0,658.0 940.0,658.0 916.5,681.5" fill="#fdfdfd" stroke="#fdfdfd"/>
<polygon points="940.0,658.0 940.0,705.0 916.5,681.5" fill="#fdfdfd" stroke="#fdfdfd"/>
<polygon points="940.0,705.0 893.0,705.0 916.5,681.5" fill="#fdfdfd" stroke="#fdfdfd"/>
<polygon points="893.0,705.0 893.0,658.0 916.5,681.5" fill="#fafafa" stroke="#fafafa"/>
<polygon points="940.0,658.0 987.0,658.0 940.0,705.0" fill="#fdfdfd" stroke="#fdfdfd"/>
<polygon points="987.0,658.0 987.0,705.0 940.0,705.0" fill="#fafafa" stroke="#fafafa"/>
<polygon points="987.0,658.0 1034.0,658.0 1010.5,681.5" fill="#fdfdfd" stroke="#fdfdfd"/>
<polygon points="1034.0,658.0 1034.0,705.0 1010.5,681.5" fill="#fafafa" stroke="#fafafa"/>
<polygon points="1034.0,705.0 987.0,705.0 1010.5,681.5" fill="#fdfdfd" stroke="#fdfdfd"/>
<polygon points="987.0,705.0 987.0,658.0 1010.5,681.5" fill="#fdfdfd" stroke="#fdfdfd"/>
<polygon points="0.0,705.0 47.0,705.0 23.5,728.5" fill="#fafafa" stroke="#fafafa"/>
<polygon points="47.0,705.0 47.0,752.0 23.5,728.5" fill="#fafafa" stroke="#fafafa"/>
<polygon points="47.0,752.0 0.0,752.0 23.5,728.5" fill="#f7f7f7" stroke="#f7f7f7"/>
<polygon points="0.0,752.0 0.0,705.0 23.5,728.5" fill="#fdfdfd" stroke="#fdfdfd"/>
<polygon points="47.0,705.0 94.0,705.0 47.0,752.0" fill="#fafafa" stroke="#fafafa"/>
<polygon points="94.0,705.0 94.0,752.0 47.0,752.0" fill="#f7f7f7" stroke="#f7f7f7"/>
<polygon points="94.0,705.0 141.0,705.0 117.5,728.5" fill="#fafafa" stroke="#fafafa"/>
<polygon points="141.0,705.0 141.0,752.0 117.5,728.5" fill="#f7f7f7" stroke="#f7f7f7"/>
<polygon points="141.0,752.0 94.0,752.0 117.5,728.5" fill="#fdfdfd" stroke="#fdfdfd"/>
<polygon points="94.0,752.0 94.0,705.0 117.5,728.5" fill="#fafafa" stroke="#fafafa"/>
<polygon points="141.0,705.0 188.0,705.0 188.0,752.0" fill="#f7f7f7" stroke="#f7f7f7"/>
<polygon points="141.0,705.0 188.0,752.0 141.0,752.0" fill="#f7f7f7" stroke="#f7f7f7"/>
<polygon points="188.0,705.0 235.0,705.0 211.5,728.5" fill="#fdfdfd" stroke="#fdfdfd"/>
<polygon points="235.0,705.0 235.0,752.0 211.5,728.5" fill="#fdfdfd" stroke="#fdfdfd"/>
<polygon points="235.0,752.0 188.0,752.0 211.5,728.5" fill="#f7f7f7" stroke="#f7f7f7"/>
<polygon points="188.0,752.0 188.0,705.0 211.5,728.5" fill="#fdfdfd" stroke="#fdfdfd"/>
<polygon points="235.0,705.0 282.0,705.0 258.5,728.5" fill="#fdfdfd" stroke="#fdfdfd"/>
<polygon points="282.0,705.0 282.0,752.0 258.5,728.5" fill="#f7f7f7" stroke="#f7f7f7"/>
<polygon points="282.0,752.0 235.0,752.0 258.5,728.5" fill="#fdfdfd" stroke="#fdfdfd"/>
<polygon points="235.0,752.0 235.0,705.0 258.5,728.5" fill="#fdfdfd" stroke="#fdfdfd"/>
<polygon points="282.0,705.0 329.0,705.0 329.0,752.0" fill="#fdfdfd" stroke="#fdfdfd"/>
<polygon points="282.0,705.0 329.0,752.0 282.0,752.0" fill="#f7f7f7" stroke="#f7f7f7"/>
<polygon points="329.0,705.0 376.0,705.0 352.5,728.5" fill="#fdfdfd" stroke="#fdfdfd"/>
<polygon points="376.0,705.0 376.0,752.0 352.5,728.5" fill="#f7f7f7" stroke="#f7f7f7"/>
<polygon points="376.0,752.0 329.0,752.0 352.5,728.5" fill="#fdfdfd" stroke="#fdfdfd"/>
<polygon points="329.0,752.0 329.0,705.0 352.5,728.5" fill="#fdfdfd" stroke="#fdfdfd"/>
<polygon points="376.0,705.0 423.0,705.0 423.0,752.0" fill="#f7f7f7" stroke="#f7f7f7"/>
<polygon points="376.0,705.0 423.0,752.0 376.0,752.0" fill="#fdfdfd" stroke="#fdfdfd"/>
<polygon points="423.0,705.0 470.0,705.0 446.5,728.5" fill="#fdfdfd" stroke="#fdfdfd"/>
<polygon points="470.0,705.0 470.0,752.0 446.5,728.5" fill="#fafafa" stroke="#fafafa"/>
<polygon points="470.0,752.0 423.0,752.0 446.5,728.5" fill="#fafafa" stroke="#fafafa"/>
<polygon points="423.0,752.0 423.0,705.0 446.5,728.5" fill="#fdfdfd" stroke="#fdfdfd"/>
<polygon points="470.0,705.0 517.0,705.0 517.0,752.0" fill="#f7f7f7" stroke="#f7f7f7"/>
<polygon points="470.0,705.0 517.0,752.0 470.0,752.0" fill="#f7f7f7" stroke="#f7f7f7"/>
<polygon points="517.0,705.0 564.0,705.0 517.0,752.0" fill="#fdfdfd" stroke="#fdfdfd"/>
<polygon points="564.0,705.0 564.0,752.0 517.0,752.0" fill="#fdfdfd" stroke="#fdfdfd"/>
<polygon points="564.0,705.0 611.0,705.0 587.5,728.5" fill="#fdfdfd" stroke="#fdfdfd"/>
<polygon points="611.0,705.0 611.0,752.0 587.5,728.5" fill="#f7f7f7" stroke="#f7f7f7"/>
<polygon points="611.0,752.0 564.0,752.0 587.5,728.5" fill="#f7f7f7" stroke="#f7f7f7"/>
<polygon points="564.0,752.0 564.0,705.0 587.5,728.5" fill="#f7f7f7" stroke="#f7f7f7"/>
<polygon points="611.0,705.0 658.0,705.0 658.0,752.0" fill="#fdfdfd" stroke="#fdfdfd"/>
<polygon points="611.0,705.0 658.0,752.0 611.0,752.0" fill="#fdfdfd" stroke="#fdfdfd"/>
<polygon points="658.0,705.0 705.0,705.0 705.0,752.0" fill="#fdfdfd" stroke="#fdfdfd"/>
<polygon points="658.0,705.0 705.0,752.0 658.0,752.0" fill="#f7f7f7" stroke="#f7f7f7"/>
<polygon points="705.0,705.0 752.0,705.0 728.5,728.5" fill="#f7f7f7" stroke="#f7f7f7"/>
<polygon points="752.0,705.0 752.0,752.0 728.5,728.5" fill="#fdfdfd" stroke="#fdfdfd"/>
<polygon points="752.0,752.0 705.0,752.0 728.5,728.5" fill="#fafafa" stroke="#fafafa"/>
<polygon points="705.0,752.0 705.0,705.0 728.5,728.5" fill="#fdfdfd" stroke="#fdfdfd"/>
<polygon points="752.0,705.0 799.0,705.0 799.0,752.0" fill="#fdfdfd" stroke="#fdfdfd"/>
<polygon points="752.0,705.0 799.0,752.0 752.0,752.0" fill="#fafafa" stroke="#fafafa"/>
<polygon points="799.0,705.0 846.0,705.0 846.0,752.0" fill="#fdfdfd" stroke="#fdfdfd"/>
<polygon points="799.0,705.0 846.0,752.0 799.0,752.0" fill="#fafafa" stroke="#fafafa"/>
<polygon points="846.0,705.0 893.0,705.0 869.5,728.5" fill="#f7f7f7" stroke="#f7f7f7"/>
<polygon points="893.0,705.0 893.0,752.0 869.5,728.5" fill="#fdfdfd" stroke="#fdfdfd"/>
<polygon points="893.0,752.0 846.0,752.0 869.5,728.5" fill="#fdfdfd" stroke="#fdfdfd"/>
<polygon points="846.0,752.0 846.0,705.0 869.5,728.5" fill="#fdfdfd" stroke="#fdfdfd"/>
<polygon points="893.0,705.0 940.0,705.0 916.5,728.5" fill="#fdfdfd" stroke="#fdfdfd"/>
<polygon points="940.0,705.0 940.0,752.0 916.5,728.5" fill="#fafafa" stroke="#fafafa"/>
<polygon points="940.0,752.0 893.0,752.0 916.5,728.5" fill="#fdfdfd" stroke="#fdfdfd"/>
<polygon points="893.0,752.0 893.0,705.0 916.5,728.5" fill="#fdfdfd" stroke="#fdfdfd"/>
<polygon points="940.0,705.0 987.0,705.0 963.5,728.5" fill="#fdfdfd" stroke="#fdfdfd"/>
<polygon points="987.0,705.0 987.0,752.0 963.5,728.5" fill="#fafafa" stroke="#fafafa"/>
<polygon points="987.0,752.0 940.0,752.0 963.5,728.5" fill="#fdfdfd" stroke="#fdfdfd"/>
<polygon points="940.0,752.0 940.0,705.0 963.5,728.5" fill="#fafafa" stroke="#fafafa"/>
<polygon points="987.0,705.0 1034.0,705.0 1010.5,728.5" fill="#fdfdfd" stroke="#fdfdfd"/>
<polygon points="1034.0,705.0 1034.0,752.0 1010.5,728.5" fill="#fdfdfd" stroke="#fdfdfd"/>
<polygon points="1034.0,752.0 987.0,752.0 1010.5,728.5" fill="#f7f7f7" stroke="#f7f7f7"/>
<polygon points="987.0,752.0 987.0,705.0 1010.5,728.5" fill="#fdfdfd" stroke="#fdfdfd"/>
</g>
<rect x="0" y="0" width="1023" height="708" fill="url(#vig)"/>
<rect x="0" y="0" width="1023" height="708" fill="url(#vlr)"/>

<!-- top yellow bar -->
<rect x="270" y="0" width="680" height="24" fill="url(#ybar)"/>

<!-- top-right blue triangle -->
<g filter="url(#shtr)">
<g clip-path="url(#trc)">
<g filter="url(#soft)">
  <rect x="925" y="0" width="100" height="100" fill="#1a4878"/>
  <polygon points="925,0 1025,0 1025,43 1000,30 955,27 925,27" fill="#1e5569"/>
  <polygon points="943,0 981,0 961,19" fill="#2a6c7e"/>
  <polygon points="981,0 1025,0 1025,9 1013,9 1004,19.5 993,28 982,17" fill="#1a4c62"/>
  <polygon points="982,0 988,0 1001,19.5 993,28 982,17" fill="#2a6d80"/>
  <polygon points="1004,19.5 1013,9 1025,9 1025,36" fill="#2a7080"/>
  <polygon points="955,27 1000,30 1025,43 1025,50 990,45 960,35" fill="#1a4a82"/>
  <polygon points="957,21 962,20 981,40 976,45" fill="#2d69ae"/>
  <polygon points="994,51 1004.5,41 1025,41 1025,45 1009,60.5 1002,60.5" fill="#3574bc"/>
  <polygon points="999,64.5 1008,64.5 1013,72 1005.5,79.5" fill="#3170b8"/>
  <polygon points="1012,62 1025,55 1025,95 1012,80" fill="#1c4d8c"/>
  <polygon points="975,45 990,45 1000,62 985,60" fill="#153d6c"/>
  <polygon points="925,0 935,0 1025,92 1025,100" fill="#153a62" opacity="0.7"/>
</g>
</g>
</g>
<line x1="929" y1="0" x2="1021" y2="94" stroke="#0e2f52" stroke-width="1.2" opacity="0.6"/>

<!-- yellow diamond -->
<g filter="url(#shy)">
<g clip-path="url(#ylc)">
<g filter="url(#soft)">
  <rect x="0" y="40" width="70" height="160" fill="#edd71a"/>
  <polygon points="6,96 28,90 40,103 22,121 6,110" fill="#f6e52c"/>
  <polygon points="22,106 42,104 44,118 28,125" fill="#dcc20e"/>
  <polygon points="6,112 25,126 46,118 47,143 22,158 6,148" fill="#f7e630"/>
  <polygon points="44,112 68,125 46,150 47,125" fill="#e3ca12"/>
  <polygon points="3,150 25,150 15,162" fill="#d8bd0a"/>
  <polygon points="18,162 46,146 38,168 24,178" fill="#f1de22"/>
  <polygon points="0,120 6,112 6,150 0,160" fill="#dfc510"/>
  <polygon points="0,165 18,162 24,178 0,191" fill="#e6cd14"/>
</g>
</g>
</g>

<!-- cream banner -->
<polygon points="0,0 310,0 240,75 0,75" fill="#faf7ea" filter="url(#sh)"/>

<polygon points="0,52 16,75 0,75" fill="#f2e27a" opacity="0.75" filter="url(#blur3)"/>
<!-- bottom-left blue triangle -->
<g filter="url(#shbl)">
<g clip-path="url(#blc)">
<g filter="url(#soft)">
  <rect x="0" y="565" width="140" height="145" fill="#1f559c"/>
  <polygon points="0,570 30,590 40,600 20,606 0,600" fill="#1a4b8e"/>
  <polygon points="1.5,593 10,602 10,619 1.5,615" fill="#3a7ec6"/>
  <polygon points="13,621 33,603 41.5,613 33,621.6" fill="#3478c0"/>
  <polygon points="13,621.6 41.5,621.6 47.5,627.6 31.6,643.4 13,625.6" fill="#1a4b8e"/>
  <polygon points="10,624.6 31.6,643.4 41.5,634.5 51.4,643.4 52,640 52,667.4 31.5,686.5 23.3,677 27.4,670 12.3,663.3 10,660" fill="#3a7ec6"/>
  <polygon points="1.5,627.6 10,623.6 10,660 1.5,662" fill="#1e55a0"/>
  <polygon points="2,644 20.5,653.7 2,663.3" fill="#1a4b8e"/>
  <polygon points="0,666 12,663.3 27.4,670 20,677 0,680" fill="#2a66ae"/>
  <polygon points="0,680 20,677 13.7,697.5 0,700" fill="#1a4b8e"/>
  <polygon points="59,660 61,649 69,643 75,648 71.2,646.8" fill="#3a7ec6"/>
  <polygon points="52,663.3 71.2,646.8 89,666 84.8,674.2 94.4,685 94.4,698.8 76.6,686.5 64.3,696 52,685" fill="#3a7ec6"/>
  <polygon points="31.5,686.5 52,667.4 52,708 31.5,708" fill="#1e549a"/>
  <polygon points="13.7,697.5 31.5,686.5 45,697.5 45,708 13.7,708" fill="#3478c0"/>
  <polygon points="0,700 13.7,697.5 13.7,708 0,708" fill="#2a66ae"/>
  <polygon points="84.8,674.2 95.8,666 116.3,689.3 95.8,698.8" fill="#1b4d92"/>
  <polygon points="98.5,708 116.3,689.3 127.3,700.2 127.3,708" fill="#3478c0"/>
  <polygon points="52,708 72.5,688 93,708" fill="#1a4a8c"/>
</g>
</g>
</g>
<line x1="1" y1="570" x2="137" y2="707" stroke="#0e2f52" stroke-width="1.2" opacity="0.6"/>

<!-- edges -->
<rect x="0" y="0" width="1" height="708" fill="#eef3f6"/>
<rect x="1021" y="0" width="2" height="708" fill="#f0f0f0"/>
<rect x="0" y="707" width="1023" height="1" fill="#f0f0f0"/>

<!-- title -->
<text x="859" y="41.5" font-size="26" class="b" text-anchor="middle" filter="url(#tsh)" style="fill:#000;stroke:#000;stroke-width:0.8px">Captação</text>

<!-- unit -->
<text x="109.6" y="192.6" font-size="20.8">R$ bilhões</text>

<!-- bars -->
<g>
<rect x="102" y="401.8" width="80" height="4.50" fill="url(#gD)"/>
<rect x="102" y="405.7" width="79" height="137.30" fill="url(#gY)"/>
<rect x="102" y="431.7" width="79" height="111.30" fill="url(#gB)"/>
<rect x="102" y="456.6" width="79" height="86.40" fill="url(#gL)"/>
<rect x="102" y="490.7" width="79" height="52.30" fill="#fbfbfb"/>
<rect x="103" y="492.3" width="78" height="50.70" fill="url(#gG)"/>
<rect x="228" y="367.9" width="80" height="4.20" fill="url(#gD)"/>
<rect x="228" y="371.5" width="79" height="169.90" fill="url(#gY)"/>
<rect x="228" y="405.8" width="79" height="135.60" fill="url(#gB)"/>
<rect x="228" y="435.6" width="79" height="105.80" fill="url(#gL)"/>
<rect x="228" y="484.8" width="79" height="56.60" fill="url(#gG)"/>
<rect x="354" y="299.1" width="81.8" height="11.20" fill="url(#gD)"/>
<rect x="354" y="309.7" width="81" height="231.80" fill="url(#gY)"/>
<rect x="354" y="342.1" width="81" height="199.40" fill="url(#gB)"/>
<rect x="354" y="380.4" width="81" height="161.10" fill="url(#gL)"/>
<rect x="354" y="440.6" width="81" height="100.90" fill="url(#gG)"/>
<rect x="482" y="208.1" width="80" height="8.30" fill="url(#gD)"/>
<rect x="482" y="215.8" width="80" height="325.50" fill="url(#gY)"/>
<rect x="482" y="252.75" width="80" height="288.55" fill="url(#gB)"/>
<rect x="482" y="303.6" width="80" height="237.70" fill="url(#gL)"/>
<rect x="482" y="412.8" width="80" height="128.50" fill="url(#gG)"/>
<rect x="608" y="199.1" width="80" height="8.50" fill="url(#gD)"/>
<rect x="609" y="207" width="79" height="334.50" fill="url(#gY)"/>
<rect x="609" y="246" width="79" height="295.50" fill="url(#gB)"/>
<rect x="609" y="300.6" width="79" height="240.90" fill="url(#gL)"/>
<rect x="609" y="413" width="79" height="128.50" fill="url(#gG)"/>
<rect x="102" y="405.7" width="79" height="137.30" fill="url(#stripe)"/>
<rect x="102" y="405.7" width="79" height="137.30" fill="#000" filter="url(#mottle)" opacity="0.38"/>
<rect x="228" y="371.5" width="79" height="169.90" fill="url(#stripe)"/>
<rect x="228" y="371.5" width="79" height="169.90" fill="#000" filter="url(#mottle)" opacity="0.38"/>
<rect x="354" y="309.7" width="81" height="231.80" fill="url(#stripe)"/>
<rect x="354" y="309.7" width="81" height="231.80" fill="#000" filter="url(#mottle)" opacity="0.38"/>
<rect x="482" y="215.8" width="80" height="325.50" fill="url(#stripe)"/>
<rect x="482" y="215.8" width="80" height="325.50" fill="#000" filter="url(#mottle)" opacity="0.38"/>
<rect x="609" y="207" width="79" height="334.50" fill="url(#stripe)"/>
<rect x="609" y="207" width="79" height="334.50" fill="#000" filter="url(#mottle)" opacity="0.38"/>
</g>

<!-- bar labels -->
<g font-size="20" text-anchor="middle">
  <text x="137.7" y="364.2">208,1</text>
  <text x="138.9" y="398.4">5,2</text>
  <text x="139" y="424.8">40,1</text>
  <text x="140.8" y="451.4">36,7</text>
  <text x="140.5" y="479.9">49,3</text>
  <text x="141" y="522.7">76,9</text>

  <text x="270.3" y="332.9" font-size="21">260,6</text>
  <text x="270.7" y="367.9">5,6</text>
  <text x="268.5" y="394.6">51,3</text>
  <text x="268.8" y="426.6">45,8</text>
  <text x="269.3" y="467.5">72,3</text>
  <text x="268.8" y="521.1">85,5</text>

  <text x="394.7" y="265.5" font-size="21">362,0</text>
  <text x="397.7" y="300.5">14,3</text>
  <text x="394.6" y="332.6">51,9</text>
  <text x="394.6" y="368.3">55,0</text>
  <text x="394.4" y="416.4">91,1</text>
  <text x="395.6" y="498.5">149,6</text>

  <text x="519.6" y="173.8" font-size="21">498,4</text>
  <text x="517.6" y="211.8">11,8</text>
  <text x="520.9" y="240.1">56,5</text>
  <text x="521.4" y="284.8">75,7</text>
  <text x="522" y="364.8">160,8</text>
  <text x="522" y="483.1">193,5</text>

  <text x="646.8" y="161.9" font-size="21">510,6</text>
  <text x="649.6" y="201.1">10,7</text>
  <text x="648.9" y="232">59,0</text>
  <text x="648.8" y="279.2">81,5</text>
  <text x="649.5" y="362.9">166,6</text>
  <text x="649.2" y="483.8">192,7</text>

  <text x="143.3" y="573.9">2006</text>
  <text x="269.6" y="573.9">2007</text>
  <text x="395.6" y="573.9">2008</text>
  <text x="521.5" y="573.9">2009</text>
  <text x="648" y="573.9">Jun/10</text>
</g>
<!-- total underlines -->
<g fill="#111">
  <rect x="113.1" y="366" width="52.3" height="1.6"/>
  <rect x="244.2" y="335.4" width="51.9" height="1.6"/>
  <rect x="368.7" y="268.2" width="52.4" height="1.6"/>
  <rect x="493.8" y="176.1" width="51.9" height="1.6"/>
  <rect x="620.6" y="164.5" width="52.3" height="1.6"/>
</g>

<!-- legend -->
<rect x="104" y="599" width="30" height="19" fill="url(#gL)"/>
<rect x="104" y="629" width="30" height="19" fill="url(#gG)"/>
<rect x="416" y="599" width="29" height="19" fill="url(#gB)"/>
<rect x="416" y="630" width="29" height="19" fill="url(#gY)"/>
<rect x="669" y="630.3" width="28" height="18.4" fill="url(#gD)"/>
<g font-size="18.4">
  <text x="143" y="614.7">Captação do Mercado Aberto</text>
  <text x="142" y="644.3">Depósitos a Prazo</text>
  <text x="455" y="614.7">Depósitos de Poupança</text>
  <text x="455" y="645.6">Depósitos á Vista</text>
  <text x="706.6" y="645.6">Demais</text>
</g>

<!-- CAGR box -->
<rect x="779.5" y="205" width="189" height="298.5" fill="none" stroke="#0a84d0" stroke-width="5"/>
<text x="873.4" y="247.4" font-size="21" class="b" text-anchor="middle">CAGR (%): 29,2</text>
<rect x="819" y="276.1" width="28" height="17.4" fill="url(#gD)"/>
<rect x="819" y="322.2" width="28" height="17.3" fill="url(#gY)"/>
<rect x="819" y="368.2" width="28" height="18.4" fill="url(#gB)"/>
<rect x="819" y="414.2" width="28" height="18.4" fill="url(#gL)"/>
<rect x="819" y="461.7" width="28" height="17.8" fill="url(#gG)"/>
<g font-size="19.8" text-anchor="middle" class="sx">
  <text x="894.2" y="291.9">23,0</text>
  <text x="893.6" y="338">11,7</text>
  <text x="893.9" y="385.1">25,6</text>
  <text x="893.9" y="430.5">41,6</text>
  <text x="890.2" y="478">30,0</text>
</g>

<!-- footnote & page number -->
<text x="137" y="703.6" font-size="13">A partir de 2009 inclui as carteiras do BV e BNC</text>
<text x="989" y="689.8" font-size="14.5" text-anchor="middle" style="font-family:'DejaVu Sans',Verdana,sans-serif;font-weight:bold">13</text>
</svg>
</body>
</html>
